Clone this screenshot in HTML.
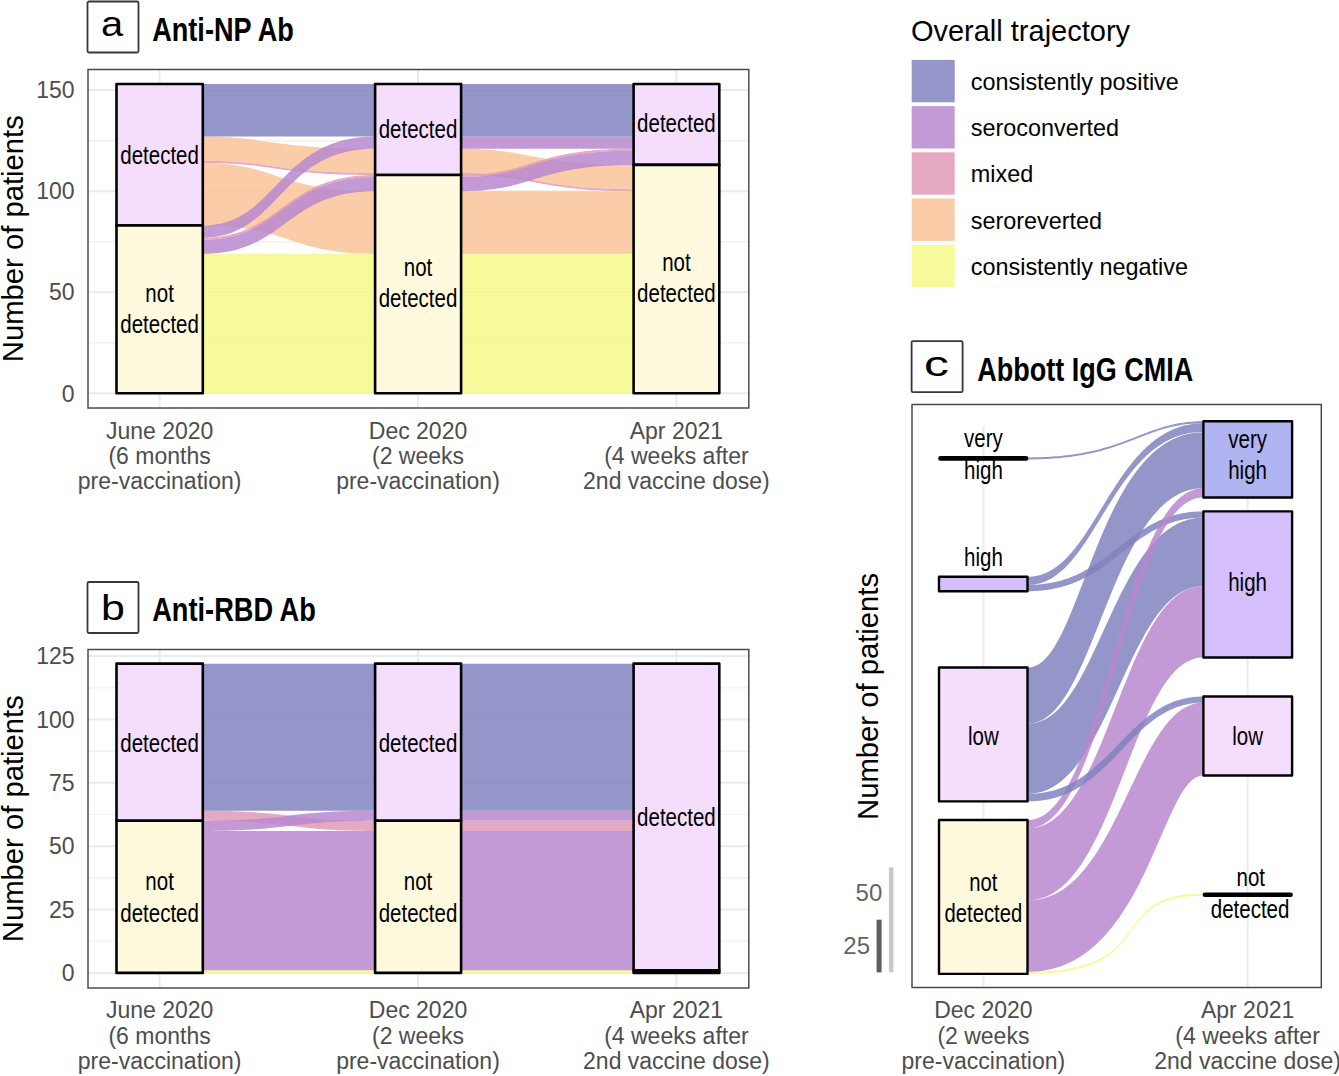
<!DOCTYPE html><html><head><meta charset="utf-8"><style>html,body{margin:0;padding:0;background:#fff;width:1339px;height:1076px;overflow:hidden}svg{display:block}text{font-family:"Liberation Sans",sans-serif}</style></head><body>
<svg width="1339" height="1076" viewBox="0 0 1339 1076">
<rect width="1339" height="1076" fill="#fff"/>
<rect x="87.5" y="1.5" width="51" height="51" rx="1.5" fill="#fff" stroke="#383838" stroke-width="1.8"/>
<text transform="translate(112.0,36.3) scale(1.12,1)" font-size="35.6" fill="#000" text-anchor="middle">a</text>
<text x="152.2" y="40.8" font-size="33" fill="#000" text-anchor="start" font-weight="bold" textLength="141.6" lengthAdjust="spacingAndGlyphs">Anti-NP Ab</text>
<line x1="88.5" x2="748.5" y1="342.77" y2="342.77" stroke="#f2f2f2" stroke-width="1.6"/>
<line x1="88.5" x2="748.5" y1="241.70" y2="241.70" stroke="#f2f2f2" stroke-width="1.6"/>
<line x1="88.5" x2="748.5" y1="140.64" y2="140.64" stroke="#f2f2f2" stroke-width="1.6"/>
<line x1="88.5" x2="748.5" y1="393.30" y2="393.30" stroke="#ebebeb" stroke-width="2"/>
<line x1="88.5" x2="748.5" y1="292.24" y2="292.24" stroke="#ebebeb" stroke-width="2"/>
<line x1="88.5" x2="748.5" y1="191.17" y2="191.17" stroke="#ebebeb" stroke-width="2"/>
<line x1="88.5" x2="748.5" y1="90.11" y2="90.11" stroke="#ebebeb" stroke-width="2"/>
<line x1="159.6" x2="159.6" y1="69.5" y2="408" stroke="#ebebeb" stroke-width="2"/>
<line x1="418.0" x2="418.0" y1="69.5" y2="408" stroke="#ebebeb" stroke-width="2"/>
<line x1="676.4" x2="676.4" y1="69.5" y2="408" stroke="#ebebeb" stroke-width="2"/>
<path d="M202.80,253.83 L207.26,253.83 L211.57,253.83 L215.73,253.83 L219.76,253.83 L223.66,253.83 L227.42,253.83 L231.06,253.83 L234.59,253.83 L238.00,253.83 L241.30,253.83 L244.50,253.83 L247.60,253.83 L250.60,253.83 L253.52,253.83 L256.35,253.83 L259.11,253.83 L261.80,253.83 L264.41,253.83 L266.96,253.83 L269.46,253.83 L271.90,253.83 L274.29,253.83 L276.64,253.83 L278.95,253.83 L281.23,253.83 L283.49,253.83 L285.71,253.83 L287.93,253.83 L290.12,253.83 L292.31,253.83 L294.50,253.83 L296.69,253.83 L298.89,253.83 L301.10,253.83 L303.33,253.83 L305.58,253.83 L307.85,253.83 L310.16,253.83 L312.51,253.83 L314.90,253.83 L317.34,253.83 L319.83,253.83 L322.38,253.83 L324.99,253.83 L327.67,253.83 L330.42,253.83 L333.25,253.83 L336.16,253.83 L339.16,253.83 L342.25,253.83 L345.44,253.83 L348.74,253.83 L352.14,253.83 L355.65,253.83 L359.29,253.83 L363.04,253.83 L366.93,253.83 L370.94,253.83 L375.10,253.83 L375.10,393.30 L372.34,393.30 L369.67,393.30 L367.08,393.30 L364.57,393.30 L362.14,393.30 L359.78,393.30 L357.49,393.30 L355.25,393.30 L353.07,393.30 L350.94,393.30 L348.85,393.30 L346.80,393.30 L344.79,393.30 L342.81,393.30 L340.85,393.30 L338.92,393.30 L336.99,393.30 L335.08,393.30 L333.17,393.30 L331.26,393.30 L329.35,393.30 L327.42,393.30 L325.48,393.30 L323.52,393.30 L321.53,393.30 L319.52,393.30 L317.46,393.30 L315.37,393.30 L313.23,393.30 L311.04,393.30 L308.79,393.30 L306.48,393.30 L304.11,393.30 L301.67,393.30 L299.15,393.30 L296.55,393.30 L293.86,393.30 L291.08,393.30 L288.21,393.30 L285.23,393.30 L282.15,393.30 L278.96,393.30 L275.65,393.30 L272.22,393.30 L268.66,393.30 L264.98,393.30 L261.15,393.30 L257.19,393.30 L253.08,393.30 L248.81,393.30 L244.39,393.30 L239.81,393.30 L235.07,393.30 L230.15,393.30 L225.05,393.30 L219.77,393.30 L214.31,393.30 L208.65,393.30 L202.80,393.30 Z" fill="#f4f989" fill-opacity="0.85"/>
<path d="M202.80,136.59 L206.15,136.61 L209.38,136.64 L212.51,136.69 L215.55,136.75 L218.48,136.84 L221.33,136.95 L224.09,137.07 L226.77,137.20 L229.37,137.36 L231.91,137.52 L234.38,137.70 L236.79,137.90 L239.14,138.10 L241.45,138.32 L243.71,138.55 L245.93,138.79 L248.11,139.04 L250.27,139.29 L252.40,139.56 L254.51,139.83 L256.61,140.11 L258.69,140.40 L260.78,140.69 L262.86,140.98 L264.95,141.28 L267.04,141.58 L269.16,141.89 L271.29,142.20 L273.45,142.50 L275.64,142.81 L277.87,143.12 L280.14,143.43 L282.45,143.73 L284.81,144.04 L287.23,144.33 L289.71,144.63 L292.26,144.92 L294.87,145.21 L297.56,145.49 L300.34,145.76 L303.20,146.03 L306.15,146.28 L309.19,146.53 L312.34,146.77 L315.59,147.00 L318.96,147.22 L322.44,147.42 L326.04,147.62 L329.77,147.80 L333.63,147.96 L337.62,148.11 L341.76,148.25 L346.04,148.37 L350.48,148.48 L355.07,148.56 L359.82,148.63 L364.74,148.68 L369.83,148.71 L375.10,148.72 L375.10,172.98 L370.08,172.97 L365.22,172.94 L360.53,172.89 L355.99,172.82 L351.61,172.73 L347.37,172.63 L343.28,172.51 L339.33,172.37 L335.51,172.22 L331.82,172.05 L328.25,171.87 L324.80,171.68 L321.46,171.47 L318.23,171.25 L315.10,171.03 L312.07,170.79 L309.13,170.54 L306.28,170.28 L303.52,170.02 L300.83,169.74 L298.21,169.46 L295.66,169.18 L293.17,168.89 L290.74,168.59 L288.37,168.29 L286.04,167.99 L283.75,167.68 L281.50,167.38 L279.28,167.07 L277.09,166.76 L274.92,166.45 L272.77,166.15 L270.63,165.84 L268.50,165.54 L266.37,165.24 L264.24,164.94 L262.10,164.65 L259.94,164.37 L257.77,164.09 L255.58,163.81 L253.35,163.55 L251.10,163.29 L248.80,163.04 L246.47,162.80 L244.08,162.58 L241.64,162.36 L239.15,162.15 L236.59,161.96 L233.96,161.78 L231.25,161.61 L228.47,161.46 L225.61,161.32 L222.66,161.20 L219.61,161.10 L216.47,161.01 L213.22,160.94 L209.86,160.89 L206.39,160.86 L202.80,160.85 Z" fill="#f9c499" fill-opacity="0.85"/>
<path d="M202.80,162.87 L206.49,162.90 L210.06,162.97 L213.51,163.08 L216.85,163.24 L220.08,163.45 L223.21,163.69 L226.24,163.97 L229.18,164.29 L232.04,164.65 L234.81,165.04 L237.51,165.46 L240.13,165.91 L242.68,166.39 L245.18,166.90 L247.62,167.43 L250.00,167.99 L252.34,168.57 L254.64,169.17 L256.90,169.79 L259.13,170.42 L261.33,171.07 L263.52,171.74 L265.68,172.42 L267.83,173.11 L269.98,173.81 L272.13,174.51 L274.28,175.23 L276.43,175.94 L278.61,176.66 L280.80,177.38 L283.01,178.10 L285.25,178.82 L287.53,179.53 L289.85,180.23 L292.21,180.93 L294.61,181.62 L297.08,182.30 L299.60,182.97 L302.18,183.62 L304.84,184.26 L307.57,184.88 L310.38,185.48 L313.27,186.06 L316.25,186.61 L319.33,187.15 L322.50,187.65 L325.78,188.13 L329.17,188.59 L332.67,189.01 L336.29,189.40 L340.04,189.75 L343.92,190.07 L347.93,190.35 L352.08,190.59 L356.37,190.80 L360.82,190.96 L365.42,191.07 L370.18,191.15 L375.10,191.17 L375.10,253.83 L370.80,253.81 L366.65,253.73 L362.63,253.62 L358.75,253.46 L354.99,253.26 L351.36,253.01 L347.85,252.73 L344.45,252.41 L341.15,252.06 L337.96,251.67 L334.87,251.25 L331.87,250.79 L328.96,250.31 L326.13,249.81 L323.38,249.27 L320.70,248.72 L318.09,248.14 L315.54,247.54 L313.05,246.92 L310.61,246.28 L308.22,245.63 L305.87,244.96 L303.56,244.28 L301.28,243.59 L299.03,242.89 L296.80,242.19 L294.58,241.48 L292.39,240.76 L290.19,240.04 L288.00,239.32 L285.81,238.60 L283.61,237.89 L281.39,237.17 L279.16,236.47 L276.91,235.77 L274.62,235.08 L272.31,234.40 L269.95,233.74 L267.56,233.08 L265.11,232.45 L262.61,231.83 L260.05,231.23 L257.43,230.65 L254.75,230.09 L251.98,229.56 L249.14,229.05 L246.22,228.57 L243.21,228.12 L240.10,227.70 L236.90,227.31 L233.59,226.95 L230.17,226.63 L226.65,226.35 L223.00,226.11 L219.22,225.90 L215.32,225.74 L211.29,225.63 L207.12,225.56 L202.80,225.53 Z" fill="#f9c499" fill-opacity="0.85"/>
<path d="M202.80,160.85 L206.39,160.86 L209.86,160.89 L213.22,160.94 L216.47,161.01 L219.61,161.10 L222.66,161.20 L225.61,161.32 L228.47,161.46 L231.25,161.61 L233.96,161.78 L236.59,161.96 L239.15,162.15 L241.64,162.36 L244.08,162.58 L246.47,162.80 L248.80,163.04 L251.10,163.29 L253.35,163.55 L255.58,163.81 L257.77,164.09 L259.94,164.37 L262.10,164.65 L264.24,164.94 L266.37,165.24 L268.50,165.54 L270.63,165.84 L272.77,166.15 L274.92,166.45 L277.09,166.76 L279.28,167.07 L281.50,167.38 L283.75,167.68 L286.04,167.99 L288.37,168.29 L290.74,168.59 L293.17,168.89 L295.66,169.18 L298.21,169.46 L300.83,169.74 L303.52,170.02 L306.28,170.28 L309.13,170.54 L312.07,170.79 L315.10,171.03 L318.23,171.25 L321.46,171.47 L324.80,171.68 L328.25,171.87 L331.82,172.05 L335.51,172.22 L339.33,172.37 L343.28,172.51 L347.37,172.63 L351.61,172.73 L355.99,172.82 L360.53,172.89 L365.22,172.94 L370.08,172.97 L375.10,172.98 L375.10,175.00 L370.10,174.99 L365.26,174.96 L360.58,174.91 L356.07,174.84 L351.70,174.75 L347.48,174.65 L343.41,174.53 L339.47,174.39 L335.67,174.24 L331.99,174.07 L328.43,173.89 L324.99,173.70 L321.67,173.49 L318.45,173.28 L315.33,173.05 L312.31,172.81 L309.38,172.56 L306.54,172.30 L303.78,172.04 L301.10,171.76 L298.49,171.48 L295.94,171.20 L293.46,170.91 L291.04,170.61 L288.66,170.31 L286.33,170.01 L284.05,169.70 L281.80,169.40 L279.58,169.09 L277.39,168.78 L275.22,168.47 L273.07,168.17 L270.93,167.86 L268.80,167.56 L266.66,167.26 L264.53,166.96 L262.38,166.67 L260.22,166.39 L258.04,166.11 L255.84,165.83 L253.61,165.57 L251.35,165.31 L249.04,165.06 L246.70,164.82 L244.30,164.60 L241.85,164.38 L239.34,164.17 L236.77,163.98 L234.13,163.80 L231.41,163.63 L228.62,163.48 L225.74,163.34 L222.77,163.22 L219.70,163.12 L216.54,163.03 L213.28,162.96 L209.90,162.91 L206.41,162.88 L202.80,162.87 Z" fill="#e29ab7" fill-opacity="0.85"/>
<path d="M202.80,237.66 L206.78,237.61 L210.63,237.45 L214.36,237.19 L217.96,236.83 L221.44,236.39 L224.82,235.85 L228.08,235.22 L231.25,234.52 L234.31,233.73 L237.29,232.87 L240.17,231.94 L242.98,230.94 L245.71,229.87 L248.36,228.75 L250.95,227.57 L253.48,226.33 L255.95,225.05 L258.37,223.72 L260.74,222.35 L263.07,220.94 L265.37,219.50 L267.63,218.02 L269.86,216.52 L272.08,214.99 L274.27,213.44 L276.46,211.88 L278.64,210.30 L280.82,208.72 L283.00,207.13 L285.19,205.53 L287.40,203.94 L289.62,202.36 L291.86,200.78 L294.14,199.22 L296.45,197.67 L298.80,196.14 L301.19,194.64 L303.63,193.16 L306.12,191.72 L308.68,190.31 L311.30,188.94 L313.98,187.61 L316.74,186.32 L319.58,185.09 L322.51,183.91 L325.52,182.79 L328.63,181.72 L331.84,180.72 L335.15,179.79 L338.57,178.93 L342.10,178.14 L345.76,177.44 L349.53,176.81 L353.44,176.27 L357.48,175.82 L361.67,175.47 L365.99,175.21 L370.47,175.05 L375.10,175.00 L375.10,177.02 L370.49,177.07 L366.03,177.23 L361.73,177.49 L357.56,177.85 L353.54,178.29 L349.65,178.83 L345.88,179.46 L342.24,180.16 L338.72,180.95 L335.32,181.81 L332.02,182.74 L328.83,183.74 L325.73,184.81 L322.73,185.93 L319.81,187.11 L316.98,188.35 L314.23,189.63 L311.55,190.96 L308.94,192.33 L306.40,193.74 L303.91,195.18 L301.47,196.66 L299.09,198.16 L296.74,199.69 L294.44,201.24 L292.16,202.80 L289.92,204.38 L287.70,205.96 L285.49,207.55 L283.30,209.15 L281.12,210.74 L278.94,212.32 L276.76,213.90 L274.57,215.46 L272.37,217.01 L270.15,218.54 L267.91,220.04 L265.64,221.52 L263.34,222.96 L261.01,224.37 L258.63,225.74 L256.20,227.07 L253.72,228.36 L251.18,229.59 L248.58,230.77 L245.91,231.90 L243.17,232.96 L240.36,233.96 L237.46,234.89 L234.47,235.75 L231.39,236.54 L228.21,237.24 L224.93,237.87 L221.54,238.41 L218.04,238.86 L214.42,239.21 L210.67,239.47 L206.80,239.63 L202.80,239.68 Z" fill="#e29ab7" fill-opacity="0.85"/>
<path d="M202.80,225.53 L206.53,225.46 L210.14,225.23 L213.63,224.87 L217.00,224.36 L220.27,223.72 L223.43,222.96 L226.50,222.07 L229.47,221.07 L232.35,219.95 L235.15,218.73 L237.87,217.41 L240.52,215.99 L243.10,214.48 L245.62,212.89 L248.08,211.21 L250.48,209.46 L252.84,207.64 L255.15,205.75 L257.43,203.80 L259.67,201.80 L261.89,199.75 L264.08,197.66 L266.26,195.52 L268.42,193.36 L270.57,191.16 L272.72,188.94 L274.88,186.70 L277.04,184.45 L279.21,182.19 L281.40,179.93 L283.62,177.67 L285.86,175.42 L288.13,173.19 L290.44,170.97 L292.79,168.77 L295.19,166.60 L297.64,164.47 L300.15,162.38 L302.73,160.33 L305.37,158.32 L308.08,156.38 L310.87,154.49 L313.75,152.67 L316.71,150.92 L319.76,149.24 L322.92,147.65 L326.17,146.14 L329.54,144.72 L333.01,143.39 L336.61,142.17 L340.32,141.06 L344.17,140.05 L348.15,139.17 L352.27,138.40 L356.53,137.77 L360.94,137.26 L365.50,136.89 L370.22,136.67 L375.10,136.59 L375.10,148.72 L370.34,148.80 L365.74,149.02 L361.29,149.39 L356.99,149.89 L352.83,150.53 L348.81,151.29 L344.93,152.18 L341.18,153.18 L337.55,154.30 L334.04,155.52 L330.64,156.84 L327.35,158.26 L324.17,159.77 L321.08,161.37 L318.09,163.05 L315.19,164.80 L312.37,166.62 L309.62,168.51 L306.96,170.45 L304.36,172.45 L301.82,174.50 L299.35,176.60 L296.92,178.73 L294.55,180.90 L292.22,183.10 L289.92,185.31 L287.66,187.55 L285.43,189.80 L283.22,192.06 L281.03,194.32 L278.85,196.58 L276.68,198.83 L274.52,201.07 L272.35,203.29 L270.18,205.48 L267.99,207.65 L265.78,209.78 L263.56,211.88 L261.30,213.93 L259.02,215.93 L256.70,217.88 L254.33,219.76 L251.92,221.59 L249.46,223.34 L246.94,225.01 L244.35,226.61 L241.70,228.12 L238.98,229.54 L236.18,230.86 L233.29,232.08 L230.32,233.20 L227.26,234.20 L224.10,235.09 L220.83,235.85 L217.46,236.49 L213.98,236.99 L210.38,237.36 L206.65,237.58 L202.80,237.66 Z" fill="#b887cf" fill-opacity="0.85"/>
<path d="M202.80,239.68 L206.80,239.63 L210.67,239.47 L214.42,239.21 L218.04,238.86 L221.54,238.41 L224.93,237.87 L228.21,237.24 L231.39,236.54 L234.47,235.75 L237.46,234.89 L240.36,233.96 L243.17,232.96 L245.91,231.90 L248.58,230.77 L251.18,229.59 L253.72,228.36 L256.20,227.07 L258.63,225.74 L261.01,224.37 L263.34,222.96 L265.64,221.52 L267.91,220.04 L270.15,218.54 L272.37,217.01 L274.57,215.46 L276.76,213.90 L278.94,212.32 L281.12,210.74 L283.30,209.15 L285.49,207.55 L287.70,205.96 L289.92,204.38 L292.16,202.80 L294.44,201.24 L296.74,199.69 L299.09,198.16 L301.47,196.66 L303.91,195.18 L306.40,193.74 L308.94,192.33 L311.55,190.96 L314.23,189.63 L316.98,188.35 L319.81,187.11 L322.73,185.93 L325.73,184.81 L328.83,183.74 L332.02,182.74 L335.32,181.81 L338.72,180.95 L342.24,180.16 L345.88,179.46 L349.65,178.83 L353.54,178.29 L357.56,177.85 L361.73,177.49 L366.03,177.23 L370.49,177.07 L375.10,177.02 L375.10,191.17 L370.63,191.22 L366.31,191.38 L362.13,191.64 L358.10,191.99 L354.19,192.44 L350.42,192.98 L346.77,193.61 L343.24,194.31 L339.82,195.10 L336.51,195.96 L333.31,196.89 L330.20,197.89 L327.19,198.96 L324.26,200.08 L321.42,201.26 L318.66,202.50 L315.97,203.78 L313.35,205.11 L310.80,206.48 L308.30,207.89 L305.85,209.33 L303.46,210.81 L301.11,212.31 L298.79,213.84 L296.51,215.39 L294.26,216.95 L292.03,218.53 L289.81,220.11 L287.62,221.70 L285.43,223.30 L283.24,224.89 L281.05,226.47 L278.85,228.05 L276.64,229.61 L274.42,231.16 L272.17,232.69 L269.90,234.19 L267.59,235.67 L265.25,237.11 L262.86,238.52 L260.43,239.89 L257.94,241.22 L255.40,242.51 L252.79,243.74 L250.12,244.92 L247.37,246.04 L244.55,247.11 L241.64,248.11 L238.65,249.04 L235.57,249.90 L232.38,250.69 L229.10,251.39 L225.70,252.02 L222.20,252.56 L218.57,253.01 L214.83,253.36 L210.95,253.62 L206.95,253.78 L202.80,253.83 Z" fill="#b887cf" fill-opacity="0.85"/>
<path d="M202.80,84.04 L205.56,84.04 L208.23,84.04 L210.82,84.04 L213.32,84.04 L215.75,84.04 L218.11,84.04 L220.41,84.04 L222.65,84.04 L224.83,84.04 L226.96,84.04 L229.04,84.04 L231.09,84.04 L233.10,84.04 L235.08,84.04 L237.04,84.04 L238.98,84.04 L240.90,84.04 L242.81,84.04 L244.72,84.04 L246.63,84.04 L248.54,84.04 L250.47,84.04 L252.41,84.04 L254.37,84.04 L256.36,84.04 L258.38,84.04 L260.43,84.04 L262.52,84.04 L264.66,84.04 L266.85,84.04 L269.10,84.04 L271.41,84.04 L273.78,84.04 L276.22,84.04 L278.74,84.04 L281.34,84.04 L284.03,84.04 L286.81,84.04 L289.68,84.04 L292.66,84.04 L295.74,84.04 L298.93,84.04 L302.24,84.04 L305.67,84.04 L309.23,84.04 L312.92,84.04 L316.74,84.04 L320.71,84.04 L324.82,84.04 L329.08,84.04 L333.50,84.04 L338.08,84.04 L342.83,84.04 L347.75,84.04 L352.85,84.04 L358.13,84.04 L363.59,84.04 L369.25,84.04 L375.10,84.04 L375.10,136.59 L369.77,136.59 L364.62,136.59 L359.65,136.59 L354.84,136.59 L350.20,136.59 L345.71,136.59 L341.38,136.59 L337.20,136.59 L333.16,136.59 L329.26,136.59 L325.49,136.59 L321.85,136.59 L318.33,136.59 L314.94,136.59 L311.65,136.59 L308.47,136.59 L305.40,136.59 L302.43,136.59 L299.54,136.59 L296.75,136.59 L294.04,136.59 L291.41,136.59 L288.84,136.59 L286.35,136.59 L283.92,136.59 L281.55,136.59 L279.23,136.59 L276.96,136.59 L274.73,136.59 L272.54,136.59 L270.39,136.59 L268.26,136.59 L266.15,136.59 L264.06,136.59 L261.98,136.59 L259.91,136.59 L257.84,136.59 L255.77,136.59 L253.70,136.59 L251.61,136.59 L249.50,136.59 L247.37,136.59 L245.21,136.59 L243.02,136.59 L240.79,136.59 L238.52,136.59 L236.20,136.59 L233.83,136.59 L231.40,136.59 L228.90,136.59 L226.34,136.59 L223.71,136.59 L220.99,136.59 L218.20,136.59 L215.32,136.59 L212.34,136.59 L209.26,136.59 L206.09,136.59 L202.80,136.59 Z" fill="#8182be" fill-opacity="0.85"/>
<path d="M461.10,253.83 L465.56,253.83 L469.88,253.83 L474.05,253.83 L478.08,253.83 L481.98,253.83 L485.75,253.83 L489.39,253.83 L492.92,253.83 L496.34,253.83 L499.64,253.83 L502.84,253.83 L505.95,253.83 L508.96,253.83 L511.88,253.83 L514.72,253.83 L517.48,253.83 L520.16,253.83 L522.78,253.83 L525.34,253.83 L527.83,253.83 L530.28,253.83 L532.67,253.83 L535.03,253.83 L537.34,253.83 L539.62,253.83 L541.88,253.83 L544.11,253.83 L546.32,253.83 L548.52,253.83 L550.72,253.83 L552.91,253.83 L555.10,253.83 L557.30,253.83 L559.51,253.83 L561.74,253.83 L563.99,253.83 L566.27,253.83 L568.59,253.83 L570.94,253.83 L573.33,253.83 L575.77,253.83 L578.26,253.83 L580.81,253.83 L583.43,253.83 L586.11,253.83 L588.86,253.83 L591.70,253.83 L594.61,253.83 L597.62,253.83 L600.71,253.83 L603.91,253.83 L607.20,253.83 L610.61,253.83 L614.13,253.83 L617.77,253.83 L621.53,253.83 L625.42,253.83 L629.44,253.83 L633.60,253.83 L633.60,393.30 L630.83,393.30 L628.16,393.30 L625.57,393.30 L623.06,393.30 L620.62,393.30 L618.25,393.30 L615.95,393.30 L613.71,393.30 L611.53,393.30 L609.39,393.30 L607.30,393.30 L605.25,393.30 L603.24,393.30 L601.25,393.30 L599.29,393.30 L597.35,393.30 L595.43,393.30 L593.51,393.30 L591.60,393.30 L589.69,393.30 L587.77,393.30 L585.84,393.30 L583.90,393.30 L581.93,393.30 L579.94,393.30 L577.92,393.30 L575.87,393.30 L573.77,393.30 L571.63,393.30 L569.44,393.30 L567.19,393.30 L564.88,393.30 L562.50,393.30 L560.06,393.30 L557.53,393.30 L554.93,393.30 L552.24,393.30 L549.46,393.30 L546.58,393.30 L543.61,393.30 L540.52,393.30 L537.33,393.30 L534.01,393.30 L530.58,393.30 L527.02,393.30 L523.33,393.30 L519.50,393.30 L515.54,393.30 L511.42,393.30 L507.15,393.30 L502.73,393.30 L498.14,393.30 L493.39,393.30 L488.47,393.30 L483.37,393.30 L478.09,393.30 L472.62,393.30 L466.96,393.30 L461.10,393.30 Z" fill="#f4f989" fill-opacity="0.85"/>
<path d="M461.10,148.72 L464.59,148.74 L467.97,148.78 L471.24,148.84 L474.40,148.94 L477.46,149.05 L480.43,149.19 L483.31,149.35 L486.10,149.53 L488.81,149.74 L491.45,149.96 L494.01,150.20 L496.51,150.46 L498.95,150.73 L501.34,151.02 L503.68,151.33 L505.97,151.65 L508.22,151.98 L510.44,152.32 L512.63,152.67 L514.79,153.04 L516.93,153.41 L519.06,153.79 L521.18,154.18 L523.29,154.57 L525.41,154.97 L527.53,155.38 L529.66,155.78 L531.81,156.19 L533.97,156.60 L536.17,157.01 L538.39,157.42 L540.65,157.83 L542.95,158.24 L545.30,158.64 L547.69,159.04 L550.15,159.44 L552.66,159.82 L555.24,160.21 L557.89,160.58 L560.62,160.94 L563.43,161.30 L566.32,161.64 L569.31,161.97 L572.39,162.29 L575.57,162.59 L578.86,162.88 L582.26,163.16 L585.78,163.42 L589.42,163.66 L593.19,163.88 L597.08,164.08 L601.12,164.26 L605.29,164.43 L609.61,164.56 L614.09,164.68 L618.72,164.77 L623.51,164.84 L628.47,164.88 L633.60,164.89 L633.60,189.15 L628.71,189.13 L623.99,189.09 L619.42,189.03 L615.01,188.94 L610.74,188.82 L606.62,188.68 L602.64,188.52 L598.79,188.34 L595.07,188.13 L591.47,187.91 L587.99,187.67 L584.62,187.41 L581.36,187.14 L578.21,186.85 L575.15,186.54 L572.18,186.23 L569.31,185.89 L566.51,185.55 L563.80,185.20 L561.15,184.83 L558.58,184.46 L556.06,184.08 L553.61,183.69 L551.21,183.30 L548.85,182.90 L546.54,182.50 L544.26,182.09 L542.02,181.68 L539.80,181.27 L537.61,180.86 L535.43,180.45 L533.27,180.04 L531.12,179.63 L528.96,179.23 L526.80,178.83 L524.64,178.43 L522.46,178.05 L520.27,177.67 L518.05,177.29 L515.80,176.93 L513.52,176.58 L511.21,176.23 L508.85,175.90 L506.44,175.58 L503.98,175.28 L501.46,174.99 L498.87,174.71 L496.22,174.45 L493.49,174.21 L490.69,173.99 L487.80,173.79 L484.83,173.61 L481.76,173.45 L478.59,173.31 L475.32,173.19 L471.94,173.10 L468.45,173.03 L464.84,172.99 L461.10,172.98 Z" fill="#f9c499" fill-opacity="0.85"/>
<path d="M461.10,191.17 L464.94,191.17 L468.65,191.17 L472.23,191.17 L475.70,191.17 L479.06,191.17 L482.31,191.17 L485.46,191.17 L488.51,191.17 L491.48,191.17 L494.35,191.17 L497.14,191.17 L499.85,191.17 L502.50,191.17 L505.07,191.17 L507.59,191.17 L510.04,191.17 L512.45,191.17 L514.81,191.17 L517.13,191.17 L519.41,191.17 L521.66,191.17 L523.88,191.17 L526.08,191.17 L528.27,191.17 L530.44,191.17 L532.61,191.17 L534.78,191.17 L536.95,191.17 L539.13,191.17 L541.32,191.17 L543.53,191.17 L545.77,191.17 L548.03,191.17 L550.33,191.17 L552.67,191.17 L555.05,191.17 L557.48,191.17 L559.97,191.17 L562.51,191.17 L565.12,191.17 L567.80,191.17 L570.55,191.17 L573.38,191.17 L576.30,191.17 L579.30,191.17 L582.41,191.17 L585.60,191.17 L588.91,191.17 L592.32,191.17 L595.85,191.17 L599.50,191.17 L603.27,191.17 L607.18,191.17 L611.21,191.17 L615.39,191.17 L619.71,191.17 L624.19,191.17 L628.81,191.17 L633.60,191.17 L633.60,253.83 L629.44,253.83 L625.42,253.83 L621.53,253.83 L617.77,253.83 L614.13,253.83 L610.61,253.83 L607.20,253.83 L603.91,253.83 L600.71,253.83 L597.62,253.83 L594.61,253.83 L591.70,253.83 L588.86,253.83 L586.11,253.83 L583.43,253.83 L580.81,253.83 L578.26,253.83 L575.77,253.83 L573.33,253.83 L570.94,253.83 L568.59,253.83 L566.27,253.83 L563.99,253.83 L561.74,253.83 L559.51,253.83 L557.30,253.83 L555.10,253.83 L552.91,253.83 L550.72,253.83 L548.52,253.83 L546.32,253.83 L544.11,253.83 L541.88,253.83 L539.62,253.83 L537.34,253.83 L535.03,253.83 L532.67,253.83 L530.28,253.83 L527.83,253.83 L525.34,253.83 L522.78,253.83 L520.16,253.83 L517.48,253.83 L514.72,253.83 L511.88,253.83 L508.96,253.83 L505.95,253.83 L502.84,253.83 L499.64,253.83 L496.34,253.83 L492.92,253.83 L489.39,253.83 L485.75,253.83 L481.98,253.83 L478.08,253.83 L474.05,253.83 L469.88,253.83 L465.56,253.83 L461.10,253.83 Z" fill="#f9c499" fill-opacity="0.85"/>
<path d="M461.10,172.98 L464.84,172.99 L468.45,173.03 L471.94,173.10 L475.32,173.19 L478.59,173.31 L481.76,173.45 L484.83,173.61 L487.80,173.79 L490.69,173.99 L493.49,174.21 L496.22,174.45 L498.87,174.71 L501.46,174.99 L503.98,175.28 L506.44,175.58 L508.85,175.90 L511.21,176.23 L513.52,176.58 L515.80,176.93 L518.05,177.29 L520.27,177.67 L522.46,178.05 L524.64,178.43 L526.80,178.83 L528.96,179.23 L531.12,179.63 L533.27,180.04 L535.43,180.45 L537.61,180.86 L539.80,181.27 L542.02,181.68 L544.26,182.09 L546.54,182.50 L548.85,182.90 L551.21,183.30 L553.61,183.69 L556.06,184.08 L558.58,184.46 L561.15,184.83 L563.80,185.20 L566.51,185.55 L569.31,185.89 L572.18,186.23 L575.15,186.54 L578.21,186.85 L581.36,187.14 L584.62,187.41 L587.99,187.67 L591.47,187.91 L595.07,188.13 L598.79,188.34 L602.64,188.52 L606.62,188.68 L610.74,188.82 L615.01,188.94 L619.42,189.03 L623.99,189.09 L628.71,189.13 L633.60,189.15 L633.60,191.17 L628.73,191.16 L624.03,191.12 L619.48,191.05 L615.08,190.96 L610.84,190.84 L606.73,190.70 L602.77,190.54 L598.93,190.36 L595.22,190.16 L591.64,189.93 L588.17,189.69 L584.82,189.44 L581.57,189.16 L578.43,188.87 L575.38,188.57 L572.42,188.25 L569.56,187.92 L566.77,187.57 L564.06,187.22 L561.42,186.86 L558.85,186.48 L556.35,186.10 L553.90,185.71 L551.50,185.32 L549.15,184.92 L546.84,184.52 L544.56,184.11 L542.32,183.70 L540.11,183.29 L537.91,182.88 L535.74,182.47 L533.57,182.06 L531.41,181.65 L529.26,181.25 L527.10,180.85 L524.93,180.46 L522.75,180.07 L520.55,179.69 L518.32,179.31 L516.07,178.95 L513.78,178.60 L511.46,178.25 L509.09,177.92 L506.67,177.60 L504.19,177.30 L501.66,177.01 L499.07,176.73 L496.40,176.48 L493.67,176.24 L490.85,176.01 L487.95,175.81 L484.96,175.63 L481.87,175.47 L478.69,175.33 L475.40,175.21 L472.00,175.12 L468.49,175.05 L464.86,175.01 L461.10,175.00 Z" fill="#e29ab7" fill-opacity="0.85"/>
<path d="M461.10,175.00 L464.64,174.98 L468.07,174.91 L471.39,174.80 L474.59,174.65 L477.70,174.47 L480.71,174.24 L483.62,173.98 L486.45,173.68 L489.20,173.35 L491.87,172.99 L494.47,172.60 L497.00,172.18 L499.48,171.73 L501.89,171.26 L504.25,170.77 L506.57,170.25 L508.84,169.71 L511.08,169.15 L513.29,168.58 L515.47,167.99 L517.63,167.38 L519.77,166.76 L521.90,166.13 L524.02,165.49 L526.15,164.84 L528.28,164.19 L530.41,163.53 L532.56,162.86 L534.73,162.20 L536.92,161.53 L539.15,160.86 L541.40,160.20 L543.70,159.53 L546.04,158.88 L548.42,158.23 L550.87,157.59 L553.37,156.96 L555.94,156.34 L558.57,155.73 L561.28,155.14 L564.07,154.57 L566.94,154.01 L569.91,153.47 L572.96,152.95 L576.12,152.46 L579.38,151.99 L582.76,151.54 L586.24,151.12 L589.85,150.73 L593.58,150.37 L597.44,150.04 L601.43,149.74 L605.57,149.48 L609.85,149.26 L614.28,149.07 L618.86,148.92 L623.61,148.81 L628.52,148.75 L633.60,148.72 L633.60,150.74 L628.54,150.77 L623.65,150.83 L618.92,150.94 L614.36,151.09 L609.94,151.28 L605.68,151.50 L601.56,151.77 L597.58,152.06 L593.74,152.39 L590.02,152.75 L586.43,153.14 L582.95,153.56 L579.59,154.01 L576.34,154.48 L573.19,154.98 L570.15,155.49 L567.19,156.03 L564.33,156.59 L561.55,157.16 L558.84,157.76 L556.21,158.36 L553.65,158.98 L551.16,159.61 L548.72,160.25 L546.33,160.90 L544.00,161.56 L541.70,162.22 L539.45,162.88 L537.23,163.55 L535.03,164.22 L532.86,164.88 L530.71,165.55 L528.57,166.21 L526.44,166.87 L524.32,167.51 L522.19,168.15 L520.05,168.78 L517.90,169.40 L515.74,170.01 L513.55,170.60 L511.34,171.18 L509.09,171.73 L506.81,172.27 L504.48,172.79 L502.11,173.28 L499.68,173.76 L497.20,174.20 L494.66,174.62 L492.04,175.01 L489.36,175.37 L486.60,175.70 L483.75,176.00 L480.82,176.26 L477.79,176.49 L474.67,176.67 L471.44,176.82 L468.11,176.93 L464.66,177.00 L461.10,177.02 Z" fill="#e29ab7" fill-opacity="0.85"/>
<path d="M461.10,136.59 L464.39,136.59 L467.57,136.59 L470.65,136.59 L473.63,136.59 L476.52,136.59 L479.32,136.59 L482.04,136.59 L484.68,136.59 L487.24,136.59 L489.74,136.59 L492.17,136.59 L494.55,136.59 L496.87,136.59 L499.15,136.59 L501.38,136.59 L503.57,136.59 L505.73,136.59 L507.87,136.59 L509.98,136.59 L512.07,136.59 L514.15,136.59 L516.22,136.59 L518.29,136.59 L520.37,136.59 L522.45,136.59 L524.54,136.59 L526.65,136.59 L528.78,136.59 L530.94,136.59 L533.14,136.59 L535.37,136.59 L537.64,136.59 L539.96,136.59 L542.33,136.59 L544.77,136.59 L547.26,136.59 L549.82,136.59 L552.46,136.59 L555.17,136.59 L557.97,136.59 L560.86,136.59 L563.83,136.59 L566.91,136.59 L570.09,136.59 L573.38,136.59 L576.78,136.59 L580.30,136.59 L583.94,136.59 L587.71,136.59 L591.62,136.59 L595.66,136.59 L599.85,136.59 L604.18,136.59 L608.67,136.59 L613.32,136.59 L618.13,136.59 L623.11,136.59 L628.27,136.59 L633.60,136.59 L633.60,148.72 L628.39,148.72 L623.35,148.72 L618.48,148.72 L613.78,148.72 L609.24,148.72 L604.85,148.72 L600.61,148.72 L596.51,148.72 L592.56,148.72 L588.74,148.72 L585.05,148.72 L581.48,148.72 L578.03,148.72 L574.70,148.72 L571.47,148.72 L568.35,148.72 L565.33,148.72 L562.40,148.72 L559.56,148.72 L556.80,148.72 L554.13,148.72 L551.53,148.72 L548.99,148.72 L546.52,148.72 L544.11,148.72 L541.75,148.72 L539.45,148.72 L537.18,148.72 L534.95,148.72 L532.76,148.72 L530.60,148.72 L528.46,148.72 L526.33,148.72 L524.22,148.72 L522.12,148.72 L520.02,148.72 L517.93,148.72 L515.82,148.72 L513.70,148.72 L511.57,148.72 L509.41,148.72 L507.23,148.72 L505.01,148.72 L502.76,148.72 L500.46,148.72 L498.12,148.72 L495.73,148.72 L493.28,148.72 L490.76,148.72 L488.18,148.72 L485.53,148.72 L482.80,148.72 L479.99,148.72 L477.09,148.72 L474.09,148.72 L471.00,148.72 L467.81,148.72 L464.51,148.72 L461.10,148.72 Z" fill="#b887cf" fill-opacity="0.85"/>
<path d="M461.10,177.02 L464.66,177.00 L468.11,176.93 L471.44,176.82 L474.67,176.67 L477.79,176.49 L480.82,176.26 L483.75,176.00 L486.60,175.70 L489.36,175.37 L492.04,175.01 L494.66,174.62 L497.20,174.20 L499.68,173.76 L502.11,173.28 L504.48,172.79 L506.81,172.27 L509.09,171.73 L511.34,171.18 L513.55,170.60 L515.74,170.01 L517.90,169.40 L520.05,168.78 L522.19,168.15 L524.32,167.51 L526.44,166.87 L528.57,166.21 L530.71,165.55 L532.86,164.88 L535.03,164.22 L537.23,163.55 L539.45,162.88 L541.70,162.22 L544.00,161.56 L546.33,160.90 L548.72,160.25 L551.16,159.61 L553.65,158.98 L556.21,158.36 L558.84,157.76 L561.55,157.16 L564.33,156.59 L567.19,156.03 L570.15,155.49 L573.19,154.98 L576.34,154.48 L579.59,154.01 L582.95,153.56 L586.43,153.14 L590.02,152.75 L593.74,152.39 L597.58,152.06 L601.56,151.77 L605.68,151.50 L609.94,151.28 L614.36,151.09 L618.92,150.94 L623.65,150.83 L628.54,150.77 L633.60,150.74 L633.60,164.89 L628.68,164.92 L623.93,164.98 L619.33,165.09 L614.89,165.24 L610.60,165.43 L606.46,165.65 L602.45,165.91 L598.58,166.21 L594.83,166.54 L591.21,166.90 L587.71,167.29 L584.33,167.71 L581.05,168.16 L577.88,168.63 L574.80,169.12 L571.82,169.64 L568.93,170.18 L566.13,170.74 L563.40,171.31 L560.75,171.90 L558.16,172.51 L555.64,173.13 L553.18,173.76 L550.77,174.40 L548.41,175.05 L546.09,175.70 L543.81,176.37 L541.57,177.03 L539.35,177.70 L537.16,178.37 L534.98,179.03 L532.82,179.70 L530.67,180.36 L528.52,181.01 L526.37,181.66 L524.21,182.30 L522.04,182.93 L519.85,183.55 L517.64,184.16 L515.41,184.75 L513.14,185.33 L510.83,185.88 L508.49,186.42 L506.09,186.94 L503.65,187.43 L501.14,187.91 L498.58,188.35 L495.94,188.77 L493.24,189.16 L490.46,189.52 L487.59,189.85 L484.64,190.15 L481.59,190.41 L478.45,190.64 L475.21,190.82 L471.85,190.97 L468.39,191.08 L464.81,191.15 L461.10,191.17 Z" fill="#b887cf" fill-opacity="0.85"/>
<path d="M461.10,84.04 L463.87,84.04 L466.54,84.04 L469.13,84.04 L471.64,84.04 L474.08,84.04 L476.44,84.04 L478.74,84.04 L480.98,84.04 L483.17,84.04 L485.30,84.04 L487.39,84.04 L489.44,84.04 L491.45,84.04 L493.44,84.04 L495.40,84.04 L497.34,84.04 L499.27,84.04 L501.18,84.04 L503.09,84.04 L505.01,84.04 L506.92,84.04 L508.85,84.04 L510.79,84.04 L512.76,84.04 L514.75,84.04 L516.77,84.04 L518.82,84.04 L520.92,84.04 L523.06,84.04 L525.25,84.04 L527.50,84.04 L529.81,84.04 L532.19,84.04 L534.64,84.04 L537.16,84.04 L539.76,84.04 L542.45,84.04 L545.23,84.04 L548.11,84.04 L551.09,84.04 L554.17,84.04 L557.37,84.04 L560.68,84.04 L564.11,84.04 L567.67,84.04 L571.36,84.04 L575.19,84.04 L579.16,84.04 L583.28,84.04 L587.54,84.04 L591.97,84.04 L596.55,84.04 L601.30,84.04 L606.23,84.04 L611.33,84.04 L616.61,84.04 L622.08,84.04 L627.74,84.04 L633.60,84.04 L633.60,136.59 L628.27,136.59 L623.11,136.59 L618.13,136.59 L613.32,136.59 L608.67,136.59 L604.18,136.59 L599.85,136.59 L595.66,136.59 L591.62,136.59 L587.71,136.59 L583.94,136.59 L580.30,136.59 L576.78,136.59 L573.38,136.59 L570.09,136.59 L566.91,136.59 L563.83,136.59 L560.86,136.59 L557.97,136.59 L555.17,136.59 L552.46,136.59 L549.82,136.59 L547.26,136.59 L544.77,136.59 L542.33,136.59 L539.96,136.59 L537.64,136.59 L535.37,136.59 L533.14,136.59 L530.94,136.59 L528.78,136.59 L526.65,136.59 L524.54,136.59 L522.45,136.59 L520.37,136.59 L518.29,136.59 L516.22,136.59 L514.15,136.59 L512.07,136.59 L509.98,136.59 L507.87,136.59 L505.73,136.59 L503.57,136.59 L501.38,136.59 L499.15,136.59 L496.87,136.59 L494.55,136.59 L492.17,136.59 L489.74,136.59 L487.24,136.59 L484.68,136.59 L482.04,136.59 L479.32,136.59 L476.52,136.59 L473.63,136.59 L470.65,136.59 L467.57,136.59 L464.39,136.59 L461.10,136.59 Z" fill="#8182be" fill-opacity="0.85"/>
<rect x="116.5" y="84.04" width="86.30" height="141.49" fill="#f4ddfd" stroke="#000" stroke-width="2.6" stroke-linejoin="round"/>
<rect x="116.5" y="225.53" width="86.30" height="167.77" fill="#fffade" stroke="#000" stroke-width="2.6" stroke-linejoin="round"/>
<rect x="375.1" y="84.04" width="86.00" height="90.96" fill="#f4ddfd" stroke="#000" stroke-width="2.6" stroke-linejoin="round"/>
<rect x="375.1" y="175.00" width="86.00" height="218.30" fill="#fffade" stroke="#000" stroke-width="2.6" stroke-linejoin="round"/>
<rect x="633.6" y="84.04" width="85.70" height="80.85" fill="#f4ddfd" stroke="#000" stroke-width="2.6" stroke-linejoin="round"/>
<rect x="633.6" y="164.89" width="85.70" height="228.41" fill="#fffade" stroke="#000" stroke-width="2.6" stroke-linejoin="round"/>
<rect x="88" y="69.5" width="660.8" height="338.5" fill="none" stroke="#454545" stroke-width="1.45"/>
<text transform="translate(159.6,163.6) scale(0.82,1)" font-size="25" fill="#000" text-anchor="middle">detected</text>
<text transform="translate(159.6,302.2) scale(0.82,1)" font-size="25" fill="#000" text-anchor="middle">not</text>
<text transform="translate(159.6,333.4) scale(0.82,1)" font-size="25" fill="#000" text-anchor="middle">detected</text>
<text transform="translate(418.0,138.3) scale(0.82,1)" font-size="25" fill="#000" text-anchor="middle">detected</text>
<text transform="translate(418.0,276.1) scale(0.82,1)" font-size="25" fill="#000" text-anchor="middle">not</text>
<text transform="translate(418.0,307.4) scale(0.82,1)" font-size="25" fill="#000" text-anchor="middle">detected</text>
<text transform="translate(676.4,131.7) scale(0.82,1)" font-size="25" fill="#000" text-anchor="middle">detected</text>
<text transform="translate(676.4,271.2) scale(0.82,1)" font-size="25" fill="#000" text-anchor="middle">not</text>
<text transform="translate(676.4,302.4) scale(0.82,1)" font-size="25" fill="#000" text-anchor="middle">detected</text>
<text x="74.5" y="401.5" font-size="23" fill="#4d4d4d" text-anchor="end" font-weight="normal">0</text>
<text x="74.5" y="300.435" font-size="23" fill="#4d4d4d" text-anchor="end" font-weight="normal">50</text>
<text x="74.5" y="199.37" font-size="23" fill="#4d4d4d" text-anchor="end" font-weight="normal">100</text>
<text x="74.5" y="98.30500000000002" font-size="23" fill="#4d4d4d" text-anchor="end" font-weight="normal">150</text>
<text x="159.6" y="438.9" font-size="23" fill="#4d4d4d" text-anchor="middle" font-weight="normal">June 2020</text>
<text x="159.6" y="464.4" font-size="23" fill="#4d4d4d" text-anchor="middle" font-weight="normal">(6 months</text>
<text x="159.6" y="489.3" font-size="23" fill="#4d4d4d" text-anchor="middle" font-weight="normal">pre-vaccination)</text>
<text x="418.0" y="438.9" font-size="23" fill="#4d4d4d" text-anchor="middle" font-weight="normal">Dec 2020</text>
<text x="418.0" y="464.4" font-size="23" fill="#4d4d4d" text-anchor="middle" font-weight="normal">(2 weeks</text>
<text x="418.0" y="489.3" font-size="23" fill="#4d4d4d" text-anchor="middle" font-weight="normal">pre-vaccination)</text>
<text x="676.4" y="438.9" font-size="23" fill="#4d4d4d" text-anchor="middle" font-weight="normal">Apr 2021</text>
<text x="676.4" y="464.4" font-size="23" fill="#4d4d4d" text-anchor="middle" font-weight="normal">(4 weeks after</text>
<text x="676.4" y="489.3" font-size="23" fill="#4d4d4d" text-anchor="middle" font-weight="normal">2nd vaccine dose)</text>
<text transform="translate(23.4,238.7) rotate(-90)" font-size="30" fill="#000" text-anchor="middle" textLength="247" lengthAdjust="spacingAndGlyphs">Number of patients</text>
<rect x="87.5" y="582" width="51" height="51" rx="1.5" fill="#fff" stroke="#383838" stroke-width="1.8"/>
<text transform="translate(113.0,620.0) scale(1.24,1)" font-size="34.6" fill="#000" text-anchor="middle">b</text>
<text x="152.2" y="621.1" font-size="33" fill="#000" text-anchor="start" font-weight="bold" textLength="163.7" lengthAdjust="spacingAndGlyphs">Anti-RBD Ab</text>
<line x1="88.5" x2="748.5" y1="941.21" y2="941.21" stroke="#f2f2f2" stroke-width="1.6"/>
<line x1="88.5" x2="748.5" y1="877.84" y2="877.84" stroke="#f2f2f2" stroke-width="1.6"/>
<line x1="88.5" x2="748.5" y1="814.46" y2="814.46" stroke="#f2f2f2" stroke-width="1.6"/>
<line x1="88.5" x2="748.5" y1="751.09" y2="751.09" stroke="#f2f2f2" stroke-width="1.6"/>
<line x1="88.5" x2="748.5" y1="687.71" y2="687.71" stroke="#f2f2f2" stroke-width="1.6"/>
<line x1="88.5" x2="748.5" y1="972.90" y2="972.90" stroke="#ebebeb" stroke-width="2"/>
<line x1="88.5" x2="748.5" y1="909.52" y2="909.52" stroke="#ebebeb" stroke-width="2"/>
<line x1="88.5" x2="748.5" y1="846.15" y2="846.15" stroke="#ebebeb" stroke-width="2"/>
<line x1="88.5" x2="748.5" y1="782.77" y2="782.77" stroke="#ebebeb" stroke-width="2"/>
<line x1="88.5" x2="748.5" y1="719.40" y2="719.40" stroke="#ebebeb" stroke-width="2"/>
<line x1="88.5" x2="748.5" y1="656.02" y2="656.02" stroke="#ebebeb" stroke-width="2"/>
<line x1="159.6" x2="159.6" y1="649.5" y2="988" stroke="#ebebeb" stroke-width="2"/>
<line x1="418.0" x2="418.0" y1="649.5" y2="988" stroke="#ebebeb" stroke-width="2"/>
<line x1="676.4" x2="676.4" y1="649.5" y2="988" stroke="#ebebeb" stroke-width="2"/>
<path d="M202.80,970.37 L208.62,970.37 L214.25,970.37 L219.69,970.37 L224.94,970.37 L230.01,970.37 L234.90,970.37 L239.63,970.37 L244.19,970.37 L248.59,970.37 L252.83,970.37 L256.92,970.37 L260.87,970.37 L264.67,970.37 L268.35,970.37 L271.89,970.37 L275.30,970.37 L278.60,970.37 L281.78,970.37 L284.85,970.37 L287.81,970.37 L290.68,970.37 L293.45,970.37 L296.13,970.37 L298.72,970.37 L301.24,970.37 L303.68,970.37 L306.05,970.37 L308.35,970.37 L310.60,970.37 L312.79,970.37 L314.93,970.37 L317.03,970.37 L319.08,970.37 L321.10,970.37 L323.09,970.37 L325.06,970.37 L327.01,970.37 L328.94,970.37 L330.87,970.37 L332.79,970.37 L334.71,970.37 L336.63,970.37 L338.57,970.37 L340.52,970.37 L342.49,970.37 L344.49,970.37 L346.52,970.37 L348.58,970.37 L350.69,970.37 L352.84,970.37 L355.04,970.37 L357.30,970.37 L359.62,970.37 L362.01,970.37 L364.46,970.37 L367.00,970.37 L369.61,970.37 L372.31,970.37 L375.10,970.37 L375.10,972.90 L372.33,972.90 L369.66,972.90 L367.07,972.90 L364.56,972.90 L362.12,972.90 L359.76,972.90 L357.46,972.90 L355.22,972.90 L353.04,972.90 L350.90,972.90 L348.82,972.90 L346.77,972.90 L344.75,972.90 L342.77,972.90 L340.81,972.90 L338.87,972.90 L336.94,972.90 L335.03,972.90 L333.12,972.90 L331.21,972.90 L329.29,972.90 L327.37,972.90 L325.42,972.90 L323.46,972.90 L321.47,972.90 L319.46,972.90 L317.40,972.90 L315.31,972.90 L313.17,972.90 L310.98,972.90 L308.73,972.90 L306.43,972.90 L304.05,972.90 L301.61,972.90 L299.09,972.90 L296.49,972.90 L293.80,972.90 L291.03,972.90 L288.15,972.90 L285.18,972.90 L282.10,972.90 L278.91,972.90 L275.60,972.90 L272.18,972.90 L268.62,972.90 L264.94,972.90 L261.11,972.90 L257.15,972.90 L253.04,972.90 L248.78,972.90 L244.37,972.90 L239.79,972.90 L235.04,972.90 L230.13,972.90 L225.04,972.90 L219.76,972.90 L214.30,972.90 L208.65,972.90 L202.80,972.90 Z" fill="#f4f989" fill-opacity="0.85"/>
<path d="M202.80,830.94 L207.23,830.94 L211.51,830.94 L215.65,830.94 L219.65,830.94 L223.52,830.94 L227.26,830.94 L230.88,830.94 L234.38,830.94 L237.77,830.94 L241.05,830.94 L244.23,830.94 L247.31,830.94 L250.30,830.94 L253.21,830.94 L256.03,830.94 L258.77,830.94 L261.44,830.94 L264.04,830.94 L266.58,830.94 L269.07,830.94 L271.50,830.94 L273.89,830.94 L276.23,830.94 L278.54,830.94 L280.81,830.94 L283.06,830.94 L285.28,830.94 L287.49,830.94 L289.69,830.94 L291.88,830.94 L294.07,830.94 L296.26,830.94 L298.46,830.94 L300.68,830.94 L302.91,830.94 L305.16,830.94 L307.45,830.94 L309.77,830.94 L312.12,830.94 L314.52,830.94 L316.97,830.94 L319.47,830.94 L322.03,830.94 L324.66,830.94 L327.35,830.94 L330.12,830.94 L332.97,830.94 L335.90,830.94 L338.91,830.94 L342.03,830.94 L345.24,830.94 L348.55,830.94 L351.98,830.94 L355.52,830.94 L359.18,830.94 L362.96,830.94 L366.87,830.94 L370.92,830.94 L375.10,830.94 L375.10,970.37 L372.31,970.37 L369.61,970.37 L367.00,970.37 L364.46,970.37 L362.01,970.37 L359.62,970.37 L357.30,970.37 L355.04,970.37 L352.84,970.37 L350.69,970.37 L348.58,970.37 L346.52,970.37 L344.49,970.37 L342.49,970.37 L340.52,970.37 L338.57,970.37 L336.63,970.37 L334.71,970.37 L332.79,970.37 L330.87,970.37 L328.94,970.37 L327.01,970.37 L325.06,970.37 L323.09,970.37 L321.10,970.37 L319.08,970.37 L317.03,970.37 L314.93,970.37 L312.79,970.37 L310.60,970.37 L308.35,970.37 L306.05,970.37 L303.68,970.37 L301.24,970.37 L298.72,970.37 L296.13,970.37 L293.45,970.37 L290.68,970.37 L287.81,970.37 L284.85,970.37 L281.78,970.37 L278.60,970.37 L275.30,970.37 L271.89,970.37 L268.35,970.37 L264.67,970.37 L260.87,970.37 L256.92,970.37 L252.83,970.37 L248.59,970.37 L244.19,970.37 L239.63,970.37 L234.90,970.37 L230.01,970.37 L224.94,970.37 L219.69,970.37 L214.25,970.37 L208.62,970.37 L202.80,970.37 Z" fill="#b887cf" fill-opacity="0.85"/>
<path d="M202.80,810.66 L207.08,810.67 L211.21,810.69 L215.21,810.74 L219.08,810.79 L222.81,810.87 L226.43,810.95 L229.93,811.05 L233.31,811.17 L236.59,811.30 L239.77,811.44 L242.85,811.59 L245.84,811.75 L248.74,811.92 L251.55,812.10 L254.30,812.29 L256.97,812.49 L259.57,812.70 L262.11,812.92 L264.59,813.14 L267.02,813.37 L269.41,813.60 L271.75,813.84 L274.06,814.08 L276.33,814.33 L278.58,814.58 L280.81,814.83 L283.02,815.09 L285.22,815.34 L287.41,815.60 L289.60,815.86 L291.79,816.12 L294.00,816.37 L296.21,816.63 L298.45,816.88 L300.71,817.13 L302.99,817.38 L305.31,817.62 L307.67,817.86 L310.08,818.09 L312.53,818.32 L315.04,818.54 L317.60,818.76 L320.23,818.97 L322.93,819.17 L325.70,819.36 L328.55,819.54 L331.49,819.71 L334.51,819.87 L337.63,820.02 L340.85,820.16 L344.17,820.29 L347.60,820.41 L351.15,820.51 L354.81,820.59 L358.60,820.67 L362.52,820.72 L366.57,820.77 L370.76,820.79 L375.10,820.80 L375.10,830.94 L370.86,830.93 L366.77,830.91 L362.81,830.86 L358.98,830.81 L355.28,830.73 L351.70,830.65 L348.24,830.55 L344.88,830.43 L341.63,830.30 L338.49,830.16 L335.43,830.01 L332.47,829.85 L329.60,829.68 L326.80,829.50 L324.08,829.31 L321.43,829.11 L318.85,828.90 L316.33,828.68 L313.86,828.46 L311.44,828.23 L309.07,828.00 L306.74,827.76 L304.44,827.52 L302.17,827.27 L299.93,827.02 L297.71,826.77 L295.51,826.51 L293.31,826.26 L291.12,826.00 L288.93,825.74 L286.73,825.48 L284.53,825.23 L282.31,824.97 L280.07,824.72 L277.80,824.47 L275.51,824.22 L273.18,823.98 L270.80,823.74 L268.39,823.51 L265.92,823.28 L263.40,823.06 L260.82,822.84 L258.17,822.63 L255.45,822.43 L252.66,822.24 L249.78,822.06 L246.82,821.89 L243.77,821.73 L240.62,821.58 L237.38,821.44 L234.03,821.31 L230.56,821.19 L226.98,821.09 L223.28,821.01 L219.46,820.93 L215.50,820.88 L211.41,820.83 L207.18,820.81 L202.80,820.80 Z" fill="#e29ab7" fill-opacity="0.85"/>
<path d="M202.80,820.80 L207.08,820.79 L211.21,820.77 L215.21,820.72 L219.08,820.67 L222.81,820.59 L226.43,820.51 L229.93,820.41 L233.31,820.29 L236.59,820.16 L239.77,820.02 L242.85,819.87 L245.84,819.71 L248.74,819.54 L251.55,819.36 L254.30,819.17 L256.97,818.97 L259.57,818.76 L262.11,818.54 L264.59,818.32 L267.02,818.09 L269.41,817.86 L271.75,817.62 L274.06,817.38 L276.33,817.13 L278.58,816.88 L280.81,816.63 L283.02,816.37 L285.22,816.12 L287.41,815.86 L289.60,815.60 L291.79,815.34 L294.00,815.09 L296.21,814.83 L298.45,814.58 L300.71,814.33 L302.99,814.08 L305.31,813.84 L307.67,813.60 L310.08,813.37 L312.53,813.14 L315.04,812.92 L317.60,812.70 L320.23,812.49 L322.93,812.29 L325.70,812.10 L328.55,811.92 L331.49,811.75 L334.51,811.59 L337.63,811.44 L340.85,811.30 L344.17,811.17 L347.60,811.05 L351.15,810.95 L354.81,810.87 L358.60,810.79 L362.52,810.74 L366.57,810.69 L370.76,810.67 L375.10,810.66 L375.10,820.80 L370.86,820.81 L366.77,820.83 L362.81,820.88 L358.98,820.93 L355.28,821.01 L351.70,821.09 L348.24,821.19 L344.88,821.31 L341.63,821.44 L338.49,821.58 L335.43,821.73 L332.47,821.89 L329.60,822.06 L326.80,822.24 L324.08,822.43 L321.43,822.63 L318.85,822.84 L316.33,823.06 L313.86,823.28 L311.44,823.51 L309.07,823.74 L306.74,823.98 L304.44,824.22 L302.17,824.47 L299.93,824.72 L297.71,824.97 L295.51,825.23 L293.31,825.48 L291.12,825.74 L288.93,826.00 L286.73,826.26 L284.53,826.51 L282.31,826.77 L280.07,827.02 L277.80,827.27 L275.51,827.52 L273.18,827.76 L270.80,828.00 L268.39,828.23 L265.92,828.46 L263.40,828.68 L260.82,828.90 L258.17,829.11 L255.45,829.31 L252.66,829.50 L249.78,829.68 L246.82,829.85 L243.77,830.01 L240.62,830.16 L237.38,830.30 L234.03,830.43 L230.56,830.55 L226.98,830.65 L223.28,830.73 L219.46,830.81 L215.50,830.86 L211.41,830.91 L207.18,830.93 L202.80,830.94 Z" fill="#b887cf" fill-opacity="0.85"/>
<path d="M202.80,663.63 L205.56,663.63 L208.22,663.63 L210.81,663.63 L213.31,663.63 L215.73,663.63 L218.09,663.63 L220.38,663.63 L222.62,663.63 L224.79,663.63 L226.92,663.63 L229.01,663.63 L231.05,663.63 L233.06,663.63 L235.04,663.63 L236.99,663.63 L238.93,663.63 L240.85,663.63 L242.76,663.63 L244.67,663.63 L246.58,663.63 L248.49,663.63 L250.41,663.63 L252.35,663.63 L254.31,663.63 L256.30,663.63 L258.32,663.63 L260.37,663.63 L262.46,663.63 L264.60,663.63 L266.79,663.63 L269.04,663.63 L271.35,663.63 L273.72,663.63 L276.16,663.63 L278.68,663.63 L281.29,663.63 L283.97,663.63 L286.75,663.63 L289.63,663.63 L292.61,663.63 L295.69,663.63 L298.88,663.63 L302.19,663.63 L305.63,663.63 L309.18,663.63 L312.87,663.63 L316.70,663.63 L320.67,663.63 L324.78,663.63 L329.05,663.63 L333.47,663.63 L338.06,663.63 L342.81,663.63 L347.73,663.63 L352.83,663.63 L358.11,663.63 L363.58,663.63 L369.24,663.63 L375.10,663.63 L375.10,810.66 L370.71,810.66 L366.47,810.66 L362.37,810.66 L358.41,810.66 L354.57,810.66 L350.87,810.66 L347.28,810.66 L343.81,810.66 L340.45,810.66 L337.20,810.66 L334.05,810.66 L330.99,810.66 L328.03,810.66 L325.15,810.66 L322.35,810.66 L319.63,810.66 L316.98,810.66 L314.39,810.66 L311.87,810.66 L309.40,810.66 L306.98,810.66 L304.60,810.66 L302.27,810.66 L299.97,810.66 L297.70,810.66 L295.46,810.66 L293.24,810.66 L291.04,810.66 L288.84,810.66 L286.65,810.66 L284.46,810.66 L282.26,810.66 L280.06,810.66 L277.84,810.66 L275.60,810.66 L273.34,810.66 L271.04,810.66 L268.71,810.66 L266.34,810.66 L263.93,810.66 L261.46,810.66 L258.94,810.66 L256.36,810.66 L253.72,810.66 L251.00,810.66 L248.21,810.66 L245.34,810.66 L242.39,810.66 L239.34,810.66 L236.20,810.66 L232.96,810.66 L229.61,810.66 L226.15,810.66 L222.58,810.66 L218.88,810.66 L215.06,810.66 L211.11,810.66 L207.03,810.66 L202.80,810.66 Z" fill="#8182be" fill-opacity="0.85"/>
<path d="M461.10,970.37 L466.93,970.37 L472.56,970.37 L478.00,970.37 L483.26,970.37 L488.33,970.37 L493.23,970.37 L497.96,970.37 L502.52,970.37 L506.93,970.37 L511.17,970.37 L515.27,970.37 L519.22,970.37 L523.03,970.37 L526.70,970.37 L530.25,970.37 L533.67,970.37 L536.96,970.37 L540.15,970.37 L543.22,970.37 L546.19,970.37 L549.06,970.37 L551.83,970.37 L554.51,970.37 L557.11,970.37 L559.63,970.37 L562.07,970.37 L564.44,970.37 L566.75,970.37 L569.00,970.37 L571.19,970.37 L573.33,970.37 L575.43,970.37 L577.49,970.37 L579.51,970.37 L581.51,970.37 L583.48,970.37 L585.43,970.37 L587.37,970.37 L589.29,970.37 L591.21,970.37 L593.14,970.37 L595.07,970.37 L597.00,970.37 L598.96,970.37 L600.94,970.37 L602.94,970.37 L604.97,970.37 L607.04,970.37 L609.15,970.37 L611.30,970.37 L613.51,970.37 L615.77,970.37 L618.09,970.37 L620.48,970.37 L622.94,970.37 L625.48,970.37 L628.10,970.37 L630.80,970.37 L633.60,970.37 L633.60,972.90 L630.83,972.90 L628.15,972.90 L625.55,972.90 L623.04,972.90 L620.60,972.90 L618.23,972.90 L615.93,972.90 L613.69,972.90 L611.50,972.90 L609.36,972.90 L607.27,972.90 L605.22,972.90 L603.20,972.90 L601.21,972.90 L599.25,972.90 L597.31,972.90 L595.38,972.90 L593.46,972.90 L591.55,972.90 L589.63,972.90 L587.71,972.90 L585.79,972.90 L583.84,972.90 L581.88,972.90 L579.89,972.90 L577.87,972.90 L575.81,972.90 L573.71,972.90 L571.57,972.90 L569.38,972.90 L567.13,972.90 L564.82,972.90 L562.44,972.90 L560.00,972.90 L557.48,972.90 L554.87,972.90 L552.18,972.90 L549.41,972.90 L546.53,972.90 L543.55,972.90 L540.47,972.90 L537.28,972.90 L533.97,972.90 L530.54,972.90 L526.98,972.90 L523.29,972.90 L519.46,972.90 L515.50,972.90 L511.39,972.90 L507.12,972.90 L502.70,972.90 L498.12,972.90 L493.37,972.90 L488.45,972.90 L483.35,972.90 L478.08,972.90 L472.61,972.90 L466.95,972.90 L461.10,972.90 Z" fill="#f4f989" fill-opacity="0.85"/>
<path d="M461.10,830.94 L465.53,830.94 L469.82,830.94 L473.96,830.94 L477.97,830.94 L481.84,830.94 L485.59,830.94 L489.21,830.94 L492.72,830.94 L496.11,830.94 L499.40,830.94 L502.58,830.94 L505.66,830.94 L508.66,830.94 L511.56,830.94 L514.39,830.94 L517.13,830.94 L519.81,830.94 L522.41,830.94 L524.96,830.94 L527.44,830.94 L529.88,830.94 L532.27,830.94 L534.61,830.94 L536.92,830.94 L539.20,830.94 L541.45,830.94 L543.68,830.94 L545.89,830.94 L548.09,830.94 L550.28,830.94 L552.47,830.94 L554.67,830.94 L556.87,830.94 L559.09,830.94 L561.32,830.94 L563.58,830.94 L565.87,830.94 L568.19,830.94 L570.55,830.94 L572.95,830.94 L575.40,830.94 L577.91,830.94 L580.47,830.94 L583.10,830.94 L585.80,830.94 L588.57,830.94 L591.42,830.94 L594.35,830.94 L597.37,830.94 L600.49,830.94 L603.70,830.94 L607.02,830.94 L610.45,830.94 L613.99,830.94 L617.66,830.94 L621.44,830.94 L625.36,830.94 L629.41,830.94 L633.60,830.94 L633.60,970.37 L630.80,970.37 L628.10,970.37 L625.48,970.37 L622.94,970.37 L620.48,970.37 L618.09,970.37 L615.77,970.37 L613.51,970.37 L611.30,970.37 L609.15,970.37 L607.04,970.37 L604.97,970.37 L602.94,970.37 L600.94,970.37 L598.96,970.37 L597.00,970.37 L595.07,970.37 L593.14,970.37 L591.21,970.37 L589.29,970.37 L587.37,970.37 L585.43,970.37 L583.48,970.37 L581.51,970.37 L579.51,970.37 L577.49,970.37 L575.43,970.37 L573.33,970.37 L571.19,970.37 L569.00,970.37 L566.75,970.37 L564.44,970.37 L562.07,970.37 L559.63,970.37 L557.11,970.37 L554.51,970.37 L551.83,970.37 L549.06,970.37 L546.19,970.37 L543.22,970.37 L540.15,970.37 L536.96,970.37 L533.67,970.37 L530.25,970.37 L526.70,970.37 L523.03,970.37 L519.22,970.37 L515.27,970.37 L511.17,970.37 L506.93,970.37 L502.52,970.37 L497.96,970.37 L493.23,970.37 L488.33,970.37 L483.26,970.37 L478.00,970.37 L472.56,970.37 L466.93,970.37 L461.10,970.37 Z" fill="#b887cf" fill-opacity="0.85"/>
<path d="M461.10,820.80 L465.43,820.80 L469.62,820.80 L473.67,820.80 L477.59,820.80 L481.37,820.80 L485.03,820.80 L488.58,820.80 L492.01,820.80 L495.32,820.80 L498.54,820.80 L501.66,820.80 L504.68,820.80 L507.61,820.80 L510.46,820.80 L513.23,820.80 L515.93,820.80 L518.56,820.80 L521.12,820.80 L523.63,820.80 L526.08,820.80 L528.48,820.80 L530.84,820.80 L533.17,820.80 L535.45,820.80 L537.71,820.80 L539.95,820.80 L542.17,820.80 L544.37,820.80 L546.57,820.80 L548.76,820.80 L550.96,820.80 L553.16,820.80 L555.37,820.80 L557.60,820.80 L559.85,820.80 L562.13,820.80 L564.44,820.80 L566.79,820.80 L569.18,820.80 L571.62,820.80 L574.11,820.80 L576.66,820.80 L579.27,820.80 L581.95,820.80 L584.69,820.80 L587.52,820.80 L590.43,820.80 L593.43,820.80 L596.51,820.80 L599.70,820.80 L602.99,820.80 L606.39,820.80 L609.90,820.80 L613.52,820.80 L617.27,820.80 L621.15,820.80 L625.16,820.80 L629.31,820.80 L633.60,820.80 L633.60,830.94 L629.41,830.94 L625.36,830.94 L621.44,830.94 L617.66,830.94 L613.99,830.94 L610.45,830.94 L607.02,830.94 L603.70,830.94 L600.49,830.94 L597.37,830.94 L594.35,830.94 L591.42,830.94 L588.57,830.94 L585.80,830.94 L583.10,830.94 L580.47,830.94 L577.91,830.94 L575.40,830.94 L572.95,830.94 L570.55,830.94 L568.19,830.94 L565.87,830.94 L563.58,830.94 L561.32,830.94 L559.09,830.94 L556.87,830.94 L554.67,830.94 L552.47,830.94 L550.28,830.94 L548.09,830.94 L545.89,830.94 L543.68,830.94 L541.45,830.94 L539.20,830.94 L536.92,830.94 L534.61,830.94 L532.27,830.94 L529.88,830.94 L527.44,830.94 L524.96,830.94 L522.41,830.94 L519.81,830.94 L517.13,830.94 L514.39,830.94 L511.56,830.94 L508.66,830.94 L505.66,830.94 L502.58,830.94 L499.40,830.94 L496.11,830.94 L492.72,830.94 L489.21,830.94 L485.59,830.94 L481.84,830.94 L477.97,830.94 L473.96,830.94 L469.82,830.94 L465.53,830.94 L461.10,830.94 Z" fill="#e29ab7" fill-opacity="0.85"/>
<path d="M461.10,810.66 L465.33,810.66 L469.42,810.66 L473.38,810.66 L477.20,810.66 L480.90,810.66 L484.48,810.66 L487.94,810.66 L491.29,810.66 L494.54,810.66 L497.68,810.66 L500.73,810.66 L503.69,810.66 L506.57,810.66 L509.36,810.66 L512.08,810.66 L514.73,810.66 L517.31,810.66 L519.83,810.66 L522.30,810.66 L524.72,810.66 L527.09,810.66 L529.42,810.66 L531.72,810.66 L533.99,810.66 L536.23,810.66 L538.45,810.66 L540.66,810.66 L542.86,810.66 L545.05,810.66 L547.24,810.66 L549.44,810.66 L551.65,810.66 L553.87,810.66 L556.12,810.66 L558.39,810.66 L560.69,810.66 L563.02,810.66 L565.40,810.66 L567.82,810.66 L570.29,810.66 L572.82,810.66 L575.41,810.66 L578.07,810.66 L580.79,810.66 L583.59,810.66 L586.48,810.66 L589.44,810.66 L592.50,810.66 L595.66,810.66 L598.91,810.66 L602.28,810.66 L605.75,810.66 L609.34,810.66 L613.05,810.66 L616.89,810.66 L620.86,810.66 L624.96,810.66 L629.21,810.66 L633.60,810.66 L633.60,820.80 L629.31,820.80 L625.16,820.80 L621.15,820.80 L617.27,820.80 L613.52,820.80 L609.90,820.80 L606.39,820.80 L602.99,820.80 L599.70,820.80 L596.51,820.80 L593.43,820.80 L590.43,820.80 L587.52,820.80 L584.69,820.80 L581.95,820.80 L579.27,820.80 L576.66,820.80 L574.11,820.80 L571.62,820.80 L569.18,820.80 L566.79,820.80 L564.44,820.80 L562.13,820.80 L559.85,820.80 L557.60,820.80 L555.37,820.80 L553.16,820.80 L550.96,820.80 L548.76,820.80 L546.57,820.80 L544.37,820.80 L542.17,820.80 L539.95,820.80 L537.71,820.80 L535.45,820.80 L533.17,820.80 L530.84,820.80 L528.48,820.80 L526.08,820.80 L523.63,820.80 L521.12,820.80 L518.56,820.80 L515.93,820.80 L513.23,820.80 L510.46,820.80 L507.61,820.80 L504.68,820.80 L501.66,820.80 L498.54,820.80 L495.32,820.80 L492.01,820.80 L488.58,820.80 L485.03,820.80 L481.37,820.80 L477.59,820.80 L473.67,820.80 L469.62,820.80 L465.43,820.80 L461.10,820.80 Z" fill="#b887cf" fill-opacity="0.85"/>
<path d="M461.10,663.63 L463.86,663.63 L466.53,663.63 L469.12,663.63 L471.63,663.63 L474.06,663.63 L476.42,663.63 L478.72,663.63 L480.95,663.63 L483.13,663.63 L485.27,663.63 L487.35,663.63 L489.40,663.63 L491.41,663.63 L493.39,663.63 L495.35,663.63 L497.29,663.63 L499.22,663.63 L501.13,663.63 L503.04,663.63 L504.95,663.63 L506.87,663.63 L508.79,663.63 L510.73,663.63 L512.70,663.63 L514.69,663.63 L516.71,663.63 L518.76,663.63 L520.86,663.63 L523.00,663.63 L525.19,663.63 L527.44,663.63 L529.75,663.63 L532.13,663.63 L534.57,663.63 L537.10,663.63 L539.70,663.63 L542.39,663.63 L545.18,663.63 L548.05,663.63 L551.03,663.63 L554.12,663.63 L557.32,663.63 L560.63,663.63 L564.07,663.63 L567.63,663.63 L571.32,663.63 L575.15,663.63 L579.12,663.63 L583.24,663.63 L587.51,663.63 L591.94,663.63 L596.53,663.63 L601.28,663.63 L606.21,663.63 L611.31,663.63 L616.60,663.63 L622.07,663.63 L627.74,663.63 L633.60,663.63 L633.60,810.66 L629.21,810.66 L624.96,810.66 L620.86,810.66 L616.89,810.66 L613.05,810.66 L609.34,810.66 L605.75,810.66 L602.28,810.66 L598.91,810.66 L595.66,810.66 L592.50,810.66 L589.44,810.66 L586.48,810.66 L583.59,810.66 L580.79,810.66 L578.07,810.66 L575.41,810.66 L572.82,810.66 L570.29,810.66 L567.82,810.66 L565.40,810.66 L563.02,810.66 L560.69,810.66 L558.39,810.66 L556.12,810.66 L553.87,810.66 L551.65,810.66 L549.44,810.66 L547.24,810.66 L545.05,810.66 L542.86,810.66 L540.66,810.66 L538.45,810.66 L536.23,810.66 L533.99,810.66 L531.72,810.66 L529.42,810.66 L527.09,810.66 L524.72,810.66 L522.30,810.66 L519.83,810.66 L517.31,810.66 L514.73,810.66 L512.08,810.66 L509.36,810.66 L506.57,810.66 L503.69,810.66 L500.73,810.66 L497.68,810.66 L494.54,810.66 L491.29,810.66 L487.94,810.66 L484.48,810.66 L480.90,810.66 L477.20,810.66 L473.38,810.66 L469.42,810.66 L465.33,810.66 L461.10,810.66 Z" fill="#8182be" fill-opacity="0.85"/>
<rect x="116.5" y="663.63" width="86.30" height="157.17" fill="#f4ddfd" stroke="#000" stroke-width="2.6" stroke-linejoin="round"/>
<rect x="116.5" y="820.80" width="86.30" height="152.10" fill="#fffade" stroke="#000" stroke-width="2.6" stroke-linejoin="round"/>
<rect x="375.1" y="663.63" width="86.00" height="157.17" fill="#f4ddfd" stroke="#000" stroke-width="2.6" stroke-linejoin="round"/>
<rect x="375.1" y="820.80" width="86.00" height="152.10" fill="#fffade" stroke="#000" stroke-width="2.6" stroke-linejoin="round"/>
<rect x="633.6" y="663.63" width="85.70" height="306.74" fill="#f4ddfd" stroke="#000" stroke-width="2.6" stroke-linejoin="round"/>
<rect x="633.6" y="970.37" width="85.70" height="2.53" fill="#fffade" stroke="#000" stroke-width="2.6" stroke-linejoin="round"/>
<rect x="88" y="649.5" width="660.8" height="338.5" fill="none" stroke="#454545" stroke-width="1.45"/>
<text transform="translate(159.6,751.5) scale(0.82,1)" font-size="25" fill="#000" text-anchor="middle">detected</text>
<text transform="translate(159.6,890.4) scale(0.82,1)" font-size="25" fill="#000" text-anchor="middle">not</text>
<text transform="translate(159.6,921.7) scale(0.82,1)" font-size="25" fill="#000" text-anchor="middle">detected</text>
<text transform="translate(418.0,751.5) scale(0.82,1)" font-size="25" fill="#000" text-anchor="middle">detected</text>
<text transform="translate(418.0,890.4) scale(0.82,1)" font-size="25" fill="#000" text-anchor="middle">not</text>
<text transform="translate(418.0,921.7) scale(0.82,1)" font-size="25" fill="#000" text-anchor="middle">detected</text>
<text transform="translate(676.4,826) scale(0.82,1)" font-size="25" fill="#000" text-anchor="middle">detected</text>
<text x="74.5" y="981.1" font-size="23" fill="#4d4d4d" text-anchor="end" font-weight="normal">0</text>
<text x="74.5" y="917.725" font-size="23" fill="#4d4d4d" text-anchor="end" font-weight="normal">25</text>
<text x="74.5" y="854.35" font-size="23" fill="#4d4d4d" text-anchor="end" font-weight="normal">50</text>
<text x="74.5" y="790.975" font-size="23" fill="#4d4d4d" text-anchor="end" font-weight="normal">75</text>
<text x="74.5" y="727.6" font-size="23" fill="#4d4d4d" text-anchor="end" font-weight="normal">100</text>
<text x="74.5" y="664.225" font-size="23" fill="#4d4d4d" text-anchor="end" font-weight="normal">125</text>
<text x="159.6" y="1018.1" font-size="23" fill="#4d4d4d" text-anchor="middle" font-weight="normal">June 2020</text>
<text x="159.6" y="1044" font-size="23" fill="#4d4d4d" text-anchor="middle" font-weight="normal">(6 months</text>
<text x="159.6" y="1068.5" font-size="23" fill="#4d4d4d" text-anchor="middle" font-weight="normal">pre-vaccination)</text>
<text x="418.0" y="1018.1" font-size="23" fill="#4d4d4d" text-anchor="middle" font-weight="normal">Dec 2020</text>
<text x="418.0" y="1044" font-size="23" fill="#4d4d4d" text-anchor="middle" font-weight="normal">(2 weeks</text>
<text x="418.0" y="1068.5" font-size="23" fill="#4d4d4d" text-anchor="middle" font-weight="normal">pre-vaccination)</text>
<text x="676.4" y="1018.1" font-size="23" fill="#4d4d4d" text-anchor="middle" font-weight="normal">Apr 2021</text>
<text x="676.4" y="1044" font-size="23" fill="#4d4d4d" text-anchor="middle" font-weight="normal">(4 weeks after</text>
<text x="676.4" y="1068.5" font-size="23" fill="#4d4d4d" text-anchor="middle" font-weight="normal">2nd vaccine dose)</text>
<text transform="translate(23.4,818.7) rotate(-90)" font-size="30" fill="#000" text-anchor="middle" textLength="247" lengthAdjust="spacingAndGlyphs">Number of patients</text>
<text x="910.9" y="41.3" font-size="29" fill="#000" text-anchor="start" font-weight="normal">Overall trajectory</text>
<rect x="911.7" y="59.9" width="43" height="42.4" fill="#9495c8"/>
<text x="970.8" y="89.9" font-size="23.4" fill="#000" text-anchor="start" font-weight="normal">consistently positive</text>
<rect x="911.7" y="106.1" width="43" height="42.4" fill="#c399d6"/>
<text x="970.8" y="136.1" font-size="23.4" fill="#000" text-anchor="start" font-weight="normal">seroconverted</text>
<rect x="911.7" y="152.3" width="43" height="42.4" fill="#e6a9c2"/>
<text x="970.8" y="182.3" font-size="23.4" fill="#000" text-anchor="start" font-weight="normal">mixed</text>
<rect x="911.7" y="198.5" width="43" height="42.4" fill="#facda8"/>
<text x="970.8" y="228.5" font-size="23.4" fill="#000" text-anchor="start" font-weight="normal">seroreverted</text>
<rect x="911.7" y="244.7" width="43" height="42.4" fill="#f6fa9b"/>
<text x="970.8" y="274.7" font-size="23.4" fill="#000" text-anchor="start" font-weight="normal">consistently negative</text>
<rect x="912" y="404.5" width="409.3" height="583" fill="#fff"/>
<line x1="983.5" x2="983.5" y1="426" y2="987" stroke="#ebebeb" stroke-width="2"/>
<line x1="1247.6" x2="1247.6" y1="426" y2="987" stroke="#ebebeb" stroke-width="2"/>
<rect x="911.6" y="341.2" width="51" height="51" rx="1.5" fill="#fff" stroke="#383838" stroke-width="1.8"/>
<text transform="translate(936.5,375.7) scale(1.43,1)" font-size="34.7" fill="#000" text-anchor="middle">c</text>
<text x="977.2" y="380.5" font-size="33" fill="#000" text-anchor="start" font-weight="bold" textLength="216" lengthAdjust="spacingAndGlyphs">Abbott IgG CMIA</text>
<path d="M1028.00,971.80 L1032.45,971.77 L1036.76,971.68 L1040.93,971.54 L1044.96,971.34 L1048.86,971.09 L1052.62,970.78 L1056.26,970.42 L1059.77,970.02 L1063.16,969.56 L1066.43,969.06 L1069.59,968.51 L1072.63,967.92 L1075.56,967.28 L1078.38,966.60 L1081.10,965.88 L1083.72,965.13 L1086.24,964.33 L1088.66,963.50 L1090.99,962.63 L1093.23,961.73 L1095.39,960.79 L1097.46,959.83 L1099.45,958.83 L1101.37,957.81 L1103.21,956.76 L1104.97,955.68 L1106.67,954.58 L1108.31,953.45 L1109.88,952.30 L1111.39,951.13 L1112.85,949.95 L1114.25,948.74 L1115.61,947.52 L1116.91,946.28 L1118.17,945.03 L1119.39,943.77 L1120.57,942.49 L1121.72,941.21 L1122.83,939.91 L1123.91,938.61 L1124.97,937.30 L1126.00,935.99 L1127.01,934.68 L1128.01,933.36 L1128.99,932.04 L1129.96,930.72 L1130.92,929.41 L1131.87,928.10 L1132.83,926.79 L1133.78,925.49 L1134.73,924.19 L1135.70,922.91 L1136.67,921.63 L1137.65,920.37 L1138.65,919.12 L1139.67,917.88 L1140.71,916.66 L1141.78,915.45 L1142.87,914.27 L1143.99,913.10 L1145.14,911.95 L1146.34,910.82 L1147.57,909.72 L1148.84,908.64 L1150.16,907.59 L1151.53,906.57 L1152.94,905.57 L1154.42,904.61 L1155.95,903.67 L1157.54,902.77 L1159.19,901.90 L1160.91,901.07 L1162.70,900.27 L1164.56,899.52 L1166.50,898.80 L1168.51,898.12 L1170.61,897.48 L1172.79,896.89 L1175.06,896.34 L1177.42,895.84 L1179.87,895.38 L1182.42,894.98 L1185.06,894.62 L1187.81,894.31 L1190.67,894.06 L1193.63,893.86 L1196.71,893.72 L1199.89,893.63 L1203.20,893.60 L1203.20,895.70 L1199.89,895.73 L1196.71,895.82 L1193.63,895.96 L1190.67,896.16 L1187.81,896.41 L1185.06,896.72 L1182.42,897.08 L1179.87,897.48 L1177.42,897.94 L1175.06,898.44 L1172.79,898.99 L1170.61,899.58 L1168.51,900.22 L1166.50,900.90 L1164.56,901.62 L1162.70,902.37 L1160.91,903.17 L1159.19,904.00 L1157.54,904.87 L1155.95,905.77 L1154.42,906.71 L1152.94,907.67 L1151.53,908.67 L1150.16,909.69 L1148.84,910.74 L1147.57,911.82 L1146.34,912.92 L1145.14,914.05 L1143.99,915.20 L1142.87,916.37 L1141.78,917.55 L1140.71,918.76 L1139.67,919.98 L1138.65,921.22 L1137.65,922.47 L1136.67,923.73 L1135.70,925.01 L1134.73,926.29 L1133.78,927.59 L1132.83,928.89 L1131.87,930.20 L1130.92,931.51 L1129.96,932.82 L1128.99,934.14 L1128.01,935.46 L1127.01,936.78 L1126.00,938.09 L1124.97,939.40 L1123.91,940.71 L1122.83,942.01 L1121.72,943.31 L1120.57,944.59 L1119.39,945.87 L1118.17,947.13 L1116.91,948.38 L1115.61,949.62 L1114.25,950.84 L1112.85,952.05 L1111.39,953.23 L1109.88,954.40 L1108.31,955.55 L1106.67,956.68 L1104.97,957.78 L1103.21,958.86 L1101.37,959.91 L1099.45,960.93 L1097.46,961.93 L1095.39,962.89 L1093.23,963.83 L1090.99,964.73 L1088.66,965.60 L1086.24,966.43 L1083.72,967.23 L1081.10,967.98 L1078.38,968.70 L1075.56,969.38 L1072.63,970.02 L1069.59,970.61 L1066.43,971.16 L1063.16,971.66 L1059.77,972.12 L1056.26,972.52 L1052.62,972.88 L1048.86,973.19 L1044.96,973.44 L1040.93,973.64 L1036.76,973.78 L1032.45,973.87 L1028.00,973.90 Z" fill="#f4f989" fill-opacity="0.85"/>
<path d="M1028.00,900.30 L1031.07,900.23 L1034.08,900.01 L1037.04,899.64 L1039.93,899.14 L1042.78,898.50 L1045.57,897.73 L1048.31,896.83 L1051.00,895.80 L1053.64,894.65 L1056.22,893.38 L1058.77,891.99 L1061.26,890.49 L1063.71,888.88 L1066.12,887.17 L1068.48,885.35 L1070.80,883.44 L1073.08,881.43 L1075.32,879.32 L1077.52,877.13 L1079.68,874.85 L1081.81,872.49 L1083.90,870.05 L1085.96,867.53 L1087.98,864.94 L1089.97,862.28 L1091.94,859.56 L1093.87,856.78 L1095.77,853.93 L1097.65,851.03 L1099.50,848.08 L1101.33,845.08 L1103.13,842.03 L1104.91,838.95 L1106.67,835.82 L1108.40,832.66 L1110.12,829.46 L1111.82,826.24 L1113.50,822.99 L1115.17,819.72 L1116.82,816.44 L1118.46,813.13 L1120.08,809.82 L1121.70,806.49 L1123.30,803.17 L1124.90,799.83 L1126.48,796.51 L1128.06,793.18 L1129.64,789.87 L1131.21,786.56 L1132.77,783.28 L1134.33,780.01 L1135.90,776.76 L1137.46,773.54 L1139.02,770.34 L1140.59,767.18 L1142.16,764.05 L1143.73,760.97 L1145.31,757.92 L1146.89,754.92 L1148.49,751.97 L1150.09,749.07 L1151.70,746.22 L1153.33,743.44 L1154.96,740.72 L1156.61,738.06 L1158.28,735.47 L1159.96,732.95 L1161.65,730.51 L1163.37,728.15 L1165.10,725.87 L1166.86,723.68 L1168.63,721.57 L1170.43,719.56 L1172.25,717.65 L1174.10,715.83 L1175.97,714.12 L1177.87,712.51 L1179.80,711.01 L1181.76,709.62 L1183.75,708.35 L1185.77,707.20 L1187.82,706.17 L1189.91,705.27 L1192.03,704.50 L1194.18,703.86 L1196.38,703.36 L1198.61,702.99 L1200.89,702.77 L1203.20,702.70 L1203.20,775.50 L1201.78,775.57 L1200.38,775.79 L1199.00,776.15 L1197.64,776.65 L1196.29,777.29 L1194.96,778.06 L1193.64,778.95 L1192.34,779.97 L1191.05,781.12 L1189.78,782.38 L1188.51,783.75 L1187.25,785.24 L1186.00,786.84 L1184.76,788.54 L1183.52,790.35 L1182.29,792.25 L1181.06,794.25 L1179.83,796.34 L1178.60,798.52 L1177.37,800.78 L1176.15,803.13 L1174.92,805.55 L1173.68,808.05 L1172.45,810.63 L1171.20,813.27 L1169.95,815.97 L1168.69,818.74 L1167.43,821.56 L1166.15,824.44 L1164.86,827.38 L1163.56,830.36 L1162.24,833.38 L1160.91,836.45 L1159.57,839.56 L1158.21,842.70 L1156.83,845.87 L1155.43,849.07 L1154.01,852.30 L1152.56,855.55 L1151.10,858.81 L1149.61,862.09 L1148.10,865.39 L1146.56,868.69 L1144.99,872.00 L1143.40,875.30 L1141.78,878.61 L1140.12,881.91 L1138.43,885.21 L1136.71,888.49 L1134.96,891.75 L1133.17,895.00 L1131.35,898.23 L1129.49,901.43 L1127.59,904.60 L1125.65,907.74 L1123.67,910.85 L1121.64,913.92 L1119.58,916.94 L1117.47,919.92 L1115.31,922.86 L1113.11,925.74 L1110.86,928.56 L1108.56,931.33 L1106.21,934.03 L1103.82,936.67 L1101.36,939.25 L1098.86,941.75 L1096.30,944.17 L1093.69,946.52 L1091.02,948.78 L1088.29,950.96 L1085.50,953.05 L1082.65,955.05 L1079.74,956.95 L1076.77,958.76 L1073.74,960.46 L1070.64,962.06 L1067.47,963.55 L1064.24,964.92 L1060.94,966.18 L1057.57,967.33 L1054.14,968.35 L1050.62,969.24 L1047.04,970.01 L1043.39,970.65 L1039.65,971.15 L1035.85,971.51 L1031.96,971.73 L1028.00,971.80 Z" fill="#b887cf" fill-opacity="0.85"/>
<path d="M1028.00,828.40 L1030.69,828.31 L1033.33,828.04 L1035.93,827.59 L1038.47,826.98 L1040.98,826.19 L1043.43,825.24 L1045.85,824.14 L1048.22,822.88 L1050.54,821.47 L1052.83,819.91 L1055.08,818.21 L1057.29,816.37 L1059.47,814.40 L1061.61,812.30 L1063.71,810.07 L1065.78,807.72 L1067.82,805.26 L1069.83,802.68 L1071.81,799.99 L1073.76,797.19 L1075.68,794.30 L1077.57,791.30 L1079.44,788.22 L1081.29,785.04 L1083.11,781.79 L1084.91,778.45 L1086.68,775.03 L1088.44,771.54 L1090.18,767.99 L1091.90,764.37 L1093.61,760.69 L1095.30,756.95 L1096.98,753.17 L1098.64,749.33 L1100.29,745.46 L1101.93,741.54 L1103.56,737.59 L1105.18,733.61 L1106.80,729.60 L1108.41,725.56 L1110.01,721.51 L1111.61,717.45 L1113.21,713.37 L1114.80,709.29 L1116.40,705.21 L1117.99,701.13 L1119.59,697.05 L1121.19,692.99 L1122.79,688.94 L1124.40,684.90 L1126.02,680.89 L1127.64,676.91 L1129.27,672.96 L1130.91,669.04 L1132.56,665.17 L1134.22,661.33 L1135.90,657.55 L1137.59,653.81 L1139.30,650.13 L1141.02,646.51 L1142.76,642.96 L1144.52,639.47 L1146.29,636.05 L1148.09,632.71 L1149.91,629.46 L1151.76,626.28 L1153.63,623.20 L1155.52,620.20 L1157.44,617.31 L1159.39,614.51 L1161.37,611.82 L1163.38,609.24 L1165.42,606.78 L1167.49,604.43 L1169.59,602.20 L1171.73,600.10 L1173.91,598.13 L1176.12,596.29 L1178.37,594.59 L1180.66,593.03 L1182.98,591.62 L1185.35,590.36 L1187.77,589.26 L1190.22,588.31 L1192.73,587.52 L1195.27,586.91 L1197.87,586.46 L1200.51,586.19 L1203.20,586.10 L1203.20,657.50 L1200.78,657.59 L1198.39,657.86 L1196.05,658.31 L1193.76,658.93 L1191.50,659.71 L1189.28,660.66 L1187.09,661.77 L1184.95,663.03 L1182.84,664.45 L1180.76,666.01 L1178.72,667.71 L1176.71,669.55 L1174.72,671.53 L1172.77,673.63 L1170.85,675.87 L1168.96,678.22 L1167.09,680.69 L1165.24,683.28 L1163.42,685.97 L1161.62,688.77 L1159.85,691.67 L1158.09,694.67 L1156.36,697.76 L1154.64,700.95 L1152.94,704.21 L1151.26,707.56 L1149.59,710.98 L1147.93,714.47 L1146.29,718.04 L1144.66,721.66 L1143.04,725.35 L1141.43,729.09 L1139.82,732.89 L1138.23,736.73 L1136.64,740.62 L1135.05,744.54 L1133.47,748.50 L1131.89,752.49 L1130.31,756.51 L1128.73,760.55 L1127.15,764.61 L1125.57,768.68 L1123.99,772.76 L1122.40,776.85 L1120.80,780.95 L1119.20,785.04 L1117.59,789.12 L1115.97,793.19 L1114.35,797.25 L1112.71,801.29 L1111.06,805.31 L1109.39,809.30 L1107.71,813.26 L1106.02,817.18 L1104.30,821.07 L1102.58,824.91 L1100.83,828.71 L1099.06,832.45 L1097.27,836.14 L1095.45,839.76 L1093.62,843.33 L1091.76,846.82 L1089.87,850.24 L1087.95,853.59 L1086.01,856.85 L1084.04,860.04 L1082.04,863.13 L1080.00,866.13 L1077.94,869.03 L1075.84,871.83 L1073.70,874.52 L1071.53,877.11 L1069.32,879.58 L1067.08,881.93 L1064.79,884.17 L1062.46,886.27 L1060.09,888.25 L1057.68,890.09 L1055.23,891.79 L1052.73,893.35 L1050.18,894.77 L1047.58,896.03 L1044.94,897.14 L1042.25,898.09 L1039.51,898.87 L1036.71,899.49 L1033.86,899.94 L1030.96,900.21 L1028.00,900.30 Z" fill="#b887cf" fill-opacity="0.85"/>
<path d="M1028.00,723.60 L1030.36,723.52 L1032.67,723.29 L1034.95,722.91 L1037.19,722.39 L1039.39,721.72 L1041.55,720.92 L1043.67,719.98 L1045.76,718.91 L1047.82,717.71 L1049.84,716.39 L1051.83,714.94 L1053.79,713.38 L1055.73,711.70 L1057.63,709.92 L1059.51,708.03 L1061.36,706.03 L1063.19,703.93 L1064.99,701.74 L1066.77,699.45 L1068.53,697.08 L1070.27,694.62 L1071.99,692.08 L1073.69,689.45 L1075.38,686.76 L1077.05,683.99 L1078.70,681.15 L1080.34,678.25 L1081.97,675.28 L1083.59,672.26 L1085.20,669.19 L1086.80,666.06 L1088.39,662.89 L1089.98,659.67 L1091.56,656.41 L1093.13,653.12 L1094.70,649.79 L1096.27,646.43 L1097.84,643.05 L1099.41,639.64 L1100.98,636.21 L1102.56,632.77 L1104.13,629.32 L1105.72,625.85 L1107.30,622.39 L1108.90,618.91 L1110.50,615.45 L1112.11,611.98 L1113.74,608.53 L1115.37,605.09 L1117.02,601.66 L1118.68,598.25 L1120.35,594.87 L1122.04,591.51 L1123.75,588.18 L1125.48,584.89 L1127.23,581.63 L1128.99,578.41 L1130.78,575.24 L1132.59,572.11 L1134.43,569.04 L1136.29,566.02 L1138.18,563.05 L1140.09,560.15 L1142.03,557.31 L1144.01,554.54 L1146.01,551.85 L1148.05,549.22 L1150.11,546.68 L1152.22,544.22 L1154.35,541.85 L1156.53,539.56 L1158.74,537.37 L1160.99,535.27 L1163.28,533.27 L1165.61,531.38 L1167.99,529.60 L1170.41,527.92 L1172.87,526.36 L1175.37,524.91 L1177.93,523.59 L1180.53,522.39 L1183.18,521.32 L1185.88,520.38 L1188.63,519.58 L1191.44,518.91 L1194.29,518.39 L1197.21,518.01 L1200.18,517.78 L1203.20,517.70 L1203.20,586.10 L1200.60,586.18 L1198.04,586.41 L1195.53,586.79 L1193.07,587.32 L1190.65,587.99 L1188.27,588.80 L1185.93,589.75 L1183.64,590.83 L1181.38,592.04 L1179.16,593.38 L1176.98,594.83 L1174.84,596.41 L1172.73,598.10 L1170.65,599.90 L1168.61,601.81 L1166.60,603.82 L1164.61,605.94 L1162.66,608.15 L1160.74,610.46 L1158.84,612.85 L1156.96,615.33 L1155.12,617.90 L1153.29,620.54 L1151.49,623.26 L1149.71,626.06 L1147.95,628.92 L1146.21,631.85 L1144.48,634.84 L1142.78,637.89 L1141.08,640.99 L1139.41,644.14 L1137.74,647.34 L1136.09,650.59 L1134.45,653.88 L1132.82,657.20 L1131.20,660.56 L1129.58,663.94 L1127.97,667.36 L1126.37,670.79 L1124.77,674.25 L1123.18,677.72 L1121.58,681.21 L1119.99,684.70 L1118.40,688.20 L1116.80,691.70 L1115.21,695.20 L1113.60,698.69 L1112.00,702.18 L1110.39,705.65 L1108.77,709.11 L1107.14,712.54 L1105.50,715.96 L1103.86,719.34 L1102.20,722.70 L1100.53,726.02 L1098.84,729.31 L1097.14,732.56 L1095.43,735.76 L1093.69,738.91 L1091.94,742.01 L1090.17,745.06 L1088.37,748.05 L1086.56,750.98 L1084.72,753.84 L1082.86,756.64 L1080.97,759.36 L1079.06,762.00 L1077.12,764.57 L1075.15,767.05 L1073.15,769.44 L1071.12,771.75 L1069.06,773.96 L1066.96,776.08 L1064.83,778.09 L1062.67,780.00 L1060.47,781.80 L1058.23,783.49 L1055.95,785.07 L1053.63,786.52 L1051.27,787.86 L1048.87,789.07 L1046.43,790.15 L1043.94,791.10 L1041.40,791.91 L1038.82,792.58 L1036.19,793.11 L1033.51,793.49 L1030.78,793.72 L1028.00,793.80 Z" fill="#8182be" fill-opacity="0.85"/>
<path d="M1028.00,667.50 L1029.80,667.41 L1031.58,667.15 L1033.32,666.72 L1035.04,666.12 L1036.73,665.36 L1038.40,664.44 L1040.05,663.36 L1041.67,662.14 L1043.27,660.77 L1044.85,659.26 L1046.42,657.61 L1047.96,655.83 L1049.49,653.91 L1051.00,651.87 L1052.50,649.71 L1053.99,647.43 L1055.46,645.03 L1056.92,642.53 L1058.38,639.92 L1059.82,637.21 L1061.26,634.40 L1062.68,631.49 L1064.11,628.50 L1065.53,625.41 L1066.95,622.25 L1068.36,619.01 L1069.78,615.69 L1071.19,612.31 L1072.61,608.86 L1074.03,605.34 L1075.45,601.77 L1076.88,598.15 L1078.31,594.47 L1079.75,590.75 L1081.20,586.99 L1082.66,583.18 L1084.13,579.35 L1085.61,575.48 L1087.10,571.59 L1088.61,567.68 L1090.13,563.75 L1091.67,559.80 L1093.23,555.84 L1094.81,551.88 L1096.40,547.92 L1098.02,543.96 L1099.65,540.00 L1101.31,536.05 L1103.00,532.12 L1104.71,528.21 L1106.44,524.32 L1108.21,520.45 L1110.00,516.62 L1111.82,512.81 L1113.67,509.05 L1115.56,505.33 L1117.48,501.65 L1119.43,498.03 L1121.42,494.46 L1123.44,490.94 L1125.51,487.49 L1127.61,484.11 L1129.75,480.79 L1131.93,477.55 L1134.16,474.39 L1136.43,471.30 L1138.74,468.31 L1141.10,465.40 L1143.51,462.59 L1145.96,459.88 L1148.46,457.27 L1151.02,454.77 L1153.62,452.37 L1156.28,450.09 L1158.99,447.93 L1161.75,445.89 L1164.57,443.97 L1167.45,442.19 L1170.39,440.54 L1173.38,439.03 L1176.44,437.66 L1179.56,436.44 L1182.74,435.36 L1185.98,434.44 L1189.29,433.68 L1192.67,433.08 L1196.11,432.65 L1199.62,432.39 L1203.20,432.30 L1203.20,488.20 L1200.09,488.29 L1197.03,488.55 L1194.03,488.98 L1191.09,489.58 L1188.21,490.35 L1185.38,491.27 L1182.60,492.34 L1179.88,493.56 L1177.20,494.93 L1174.58,496.45 L1172.00,498.10 L1169.47,499.88 L1166.99,501.80 L1164.55,503.84 L1162.16,506.01 L1159.81,508.29 L1157.51,510.68 L1155.24,513.19 L1153.01,515.80 L1150.82,518.52 L1148.67,521.33 L1146.56,524.24 L1144.48,527.24 L1142.43,530.32 L1140.42,533.49 L1138.44,536.73 L1136.49,540.05 L1134.56,543.44 L1132.67,546.89 L1130.80,550.41 L1128.97,553.98 L1127.15,557.61 L1125.36,561.29 L1123.59,565.02 L1121.84,568.78 L1120.12,572.59 L1118.41,576.43 L1116.72,580.30 L1115.05,584.19 L1113.39,588.11 L1111.75,592.04 L1110.12,595.99 L1108.50,599.95 L1106.90,603.92 L1105.30,607.88 L1103.72,611.85 L1102.14,615.81 L1100.57,619.76 L1099.00,623.69 L1097.44,627.61 L1095.89,631.50 L1094.33,635.37 L1092.78,639.21 L1091.22,643.02 L1089.67,646.78 L1088.11,650.51 L1086.55,654.19 L1084.98,657.82 L1083.41,661.39 L1081.83,664.91 L1080.25,668.36 L1078.65,671.75 L1077.05,675.07 L1075.43,678.31 L1073.80,681.48 L1072.16,684.56 L1070.50,687.56 L1068.83,690.47 L1067.14,693.28 L1065.43,696.00 L1063.70,698.61 L1061.95,701.12 L1060.18,703.51 L1058.39,705.79 L1056.57,707.96 L1054.73,710.00 L1052.86,711.92 L1050.97,713.70 L1049.04,715.35 L1047.09,716.87 L1045.11,718.24 L1043.09,719.46 L1041.04,720.53 L1038.96,721.45 L1036.84,722.22 L1034.69,722.82 L1032.50,723.25 L1030.27,723.51 L1028.00,723.60 Z" fill="#8182be" fill-opacity="0.85"/>
<path d="M1028.00,576.70 L1030.29,576.64 L1032.54,576.47 L1034.76,576.19 L1036.93,575.80 L1039.07,575.30 L1041.17,574.70 L1043.24,574.00 L1045.27,573.20 L1047.27,572.31 L1049.24,571.33 L1051.18,570.25 L1053.09,569.09 L1054.98,567.84 L1056.84,566.51 L1058.67,565.10 L1060.48,563.61 L1062.26,562.05 L1064.02,560.41 L1065.76,558.71 L1067.48,556.94 L1069.19,555.11 L1070.87,553.21 L1072.54,551.26 L1074.20,549.25 L1075.83,547.19 L1077.46,545.07 L1079.08,542.91 L1080.68,540.70 L1082.27,538.45 L1083.86,536.16 L1085.44,533.83 L1087.01,531.47 L1088.58,529.07 L1090.14,526.64 L1091.70,524.19 L1093.26,521.71 L1094.82,519.21 L1096.38,516.69 L1097.94,514.15 L1099.50,511.59 L1101.07,509.03 L1102.64,506.46 L1104.22,503.88 L1105.80,501.29 L1107.40,498.71 L1109.00,496.12 L1110.62,493.54 L1112.24,490.97 L1113.88,488.41 L1115.54,485.85 L1117.21,483.31 L1118.89,480.79 L1120.60,478.29 L1122.32,475.81 L1124.06,473.36 L1125.83,470.93 L1127.61,468.53 L1129.42,466.17 L1131.25,463.84 L1133.11,461.55 L1135.00,459.30 L1136.91,457.09 L1138.85,454.93 L1140.82,452.81 L1142.82,450.75 L1144.86,448.74 L1146.93,446.79 L1149.03,444.89 L1151.17,443.06 L1153.35,441.29 L1155.56,439.59 L1157.81,437.95 L1160.11,436.39 L1162.44,434.90 L1164.82,433.49 L1167.24,432.16 L1169.71,430.91 L1172.22,429.75 L1174.78,428.67 L1177.38,427.69 L1180.04,426.80 L1182.75,426.00 L1185.50,425.30 L1188.31,424.70 L1191.18,424.20 L1194.10,423.81 L1197.08,423.53 L1200.11,423.36 L1203.20,423.30 L1203.20,431.90 L1200.11,431.96 L1197.08,432.13 L1194.10,432.41 L1191.18,432.80 L1188.31,433.29 L1185.50,433.89 L1182.75,434.59 L1180.04,435.39 L1177.38,436.28 L1174.78,437.26 L1172.22,438.33 L1169.71,439.49 L1167.24,440.74 L1164.82,442.07 L1162.44,443.47 L1160.11,444.96 L1157.81,446.51 L1155.56,448.14 L1153.35,449.84 L1151.17,451.61 L1149.03,453.43 L1146.93,455.32 L1144.86,457.27 L1142.82,459.28 L1140.82,461.33 L1138.85,463.44 L1136.91,465.60 L1135.00,467.80 L1133.11,470.05 L1131.25,472.33 L1129.42,474.66 L1127.61,477.01 L1125.83,479.41 L1124.06,481.83 L1122.32,484.27 L1120.60,486.75 L1118.89,489.24 L1117.21,491.76 L1115.54,494.29 L1113.88,496.84 L1112.24,499.39 L1110.62,501.96 L1109.00,504.53 L1107.40,507.11 L1105.80,509.69 L1104.22,512.27 L1102.64,514.84 L1101.07,517.41 L1099.50,519.96 L1097.94,522.51 L1096.38,525.04 L1094.82,527.56 L1093.26,530.05 L1091.70,532.53 L1090.14,534.97 L1088.58,537.39 L1087.01,539.79 L1085.44,542.14 L1083.86,544.47 L1082.27,546.75 L1080.68,549.00 L1079.08,551.20 L1077.46,553.36 L1075.83,555.47 L1074.20,557.52 L1072.54,559.53 L1070.87,561.48 L1069.19,563.37 L1067.48,565.19 L1065.76,566.96 L1064.02,568.66 L1062.26,570.29 L1060.48,571.84 L1058.67,573.33 L1056.84,574.73 L1054.98,576.06 L1053.09,577.31 L1051.18,578.47 L1049.24,579.54 L1047.27,580.52 L1045.27,581.41 L1043.24,582.21 L1041.17,582.91 L1039.07,583.51 L1036.93,584.00 L1034.76,584.39 L1032.54,584.67 L1030.29,584.84 L1028.00,584.90 Z" fill="#8182be" fill-opacity="0.85"/>
<path d="M1028.00,584.90 L1030.78,584.87 L1033.51,584.79 L1036.19,584.66 L1038.82,584.47 L1041.40,584.23 L1043.94,583.94 L1046.43,583.61 L1048.87,583.23 L1051.27,582.80 L1053.63,582.32 L1055.95,581.81 L1058.23,581.25 L1060.47,580.65 L1062.67,580.02 L1064.83,579.34 L1066.96,578.63 L1069.06,577.88 L1071.12,577.10 L1073.15,576.28 L1075.15,575.43 L1077.12,574.55 L1079.06,573.65 L1080.97,572.71 L1082.86,571.75 L1084.72,570.76 L1086.56,569.75 L1088.37,568.71 L1090.17,567.65 L1091.94,566.57 L1093.69,565.48 L1095.43,564.36 L1097.14,563.23 L1098.84,562.08 L1100.53,560.92 L1102.20,559.74 L1103.86,558.55 L1105.50,557.35 L1107.14,556.14 L1108.77,554.93 L1110.39,553.71 L1112.00,552.48 L1113.60,551.24 L1115.21,550.01 L1116.80,548.77 L1118.40,547.53 L1119.99,546.29 L1121.58,545.06 L1123.18,543.82 L1124.77,542.59 L1126.37,541.37 L1127.97,540.16 L1129.58,538.95 L1131.20,537.75 L1132.82,536.56 L1134.45,535.38 L1136.09,534.22 L1137.74,533.07 L1139.41,531.94 L1141.08,530.82 L1142.78,529.73 L1144.48,528.65 L1146.21,527.59 L1147.95,526.55 L1149.71,525.54 L1151.49,524.55 L1153.29,523.59 L1155.12,522.65 L1156.96,521.75 L1158.84,520.87 L1160.74,520.02 L1162.66,519.20 L1164.61,518.42 L1166.60,517.67 L1168.61,516.96 L1170.65,516.28 L1172.73,515.65 L1174.84,515.05 L1176.98,514.49 L1179.16,513.98 L1181.38,513.50 L1183.64,513.07 L1185.93,512.69 L1188.27,512.36 L1190.65,512.07 L1193.07,511.83 L1195.53,511.64 L1198.04,511.51 L1200.60,511.43 L1203.20,511.40 L1203.20,517.70 L1200.69,517.73 L1198.22,517.81 L1195.79,517.94 L1193.41,518.13 L1191.07,518.37 L1188.77,518.66 L1186.51,518.99 L1184.29,519.37 L1182.11,519.80 L1179.96,520.28 L1177.85,520.79 L1175.77,521.35 L1173.73,521.95 L1171.71,522.58 L1169.73,523.26 L1167.78,523.97 L1165.85,524.72 L1163.95,525.50 L1162.08,526.32 L1160.23,527.17 L1158.41,528.05 L1156.61,528.95 L1154.83,529.89 L1153.07,530.85 L1151.33,531.84 L1149.60,532.85 L1147.90,533.89 L1146.21,534.95 L1144.53,536.03 L1142.87,537.12 L1141.22,538.24 L1139.58,539.37 L1137.96,540.52 L1136.34,541.68 L1134.73,542.86 L1133.12,544.05 L1131.52,545.25 L1129.93,546.46 L1128.34,547.67 L1126.75,548.89 L1125.16,550.12 L1123.58,551.36 L1121.99,552.59 L1120.40,553.83 L1118.80,555.07 L1117.20,556.31 L1115.60,557.54 L1113.99,558.78 L1112.37,560.01 L1110.74,561.23 L1109.10,562.44 L1107.45,563.65 L1105.78,564.85 L1104.11,566.04 L1102.42,567.22 L1100.71,568.38 L1098.98,569.53 L1097.24,570.66 L1095.48,571.78 L1093.70,572.87 L1091.89,573.95 L1090.07,575.01 L1088.21,576.05 L1086.34,577.06 L1084.44,578.05 L1082.51,579.01 L1080.55,579.95 L1078.56,580.85 L1076.54,581.73 L1074.49,582.58 L1072.41,583.40 L1070.30,584.18 L1068.14,584.93 L1065.95,585.64 L1063.73,586.32 L1061.46,586.95 L1059.16,587.55 L1056.82,588.11 L1054.43,588.62 L1052.00,589.10 L1049.52,589.53 L1047.00,589.91 L1044.44,590.24 L1041.82,590.53 L1039.16,590.77 L1036.45,590.96 L1033.69,591.09 L1030.87,591.17 L1028.00,591.20 Z" fill="#8182be" fill-opacity="0.85"/>
<path d="M1028.00,820.00 L1030.60,819.88 L1033.16,819.50 L1035.67,818.89 L1038.13,818.05 L1040.55,816.98 L1042.93,815.68 L1045.27,814.17 L1047.56,812.44 L1049.82,810.51 L1052.04,808.37 L1054.22,806.05 L1056.36,803.53 L1058.47,800.83 L1060.55,797.95 L1062.59,794.90 L1064.60,791.69 L1066.59,788.31 L1068.54,784.77 L1070.46,781.09 L1072.36,777.26 L1074.24,773.30 L1076.08,769.20 L1077.91,764.98 L1079.71,760.63 L1081.49,756.17 L1083.25,751.59 L1084.99,746.92 L1086.72,742.14 L1088.42,737.27 L1090.12,732.32 L1091.79,727.28 L1093.46,722.16 L1095.11,716.98 L1096.75,711.73 L1098.38,706.42 L1100.00,701.06 L1101.62,695.64 L1103.23,690.19 L1104.83,684.70 L1106.43,679.18 L1108.02,673.63 L1109.62,668.07 L1111.21,662.49 L1112.80,656.90 L1114.40,651.30 L1115.99,645.71 L1117.60,640.13 L1119.20,634.57 L1120.81,629.02 L1122.43,623.50 L1124.06,618.01 L1125.70,612.56 L1127.34,607.14 L1129.00,601.78 L1130.67,596.47 L1132.36,591.22 L1134.06,586.04 L1135.77,580.92 L1137.51,575.88 L1139.26,570.93 L1141.03,566.06 L1142.83,561.28 L1144.64,556.61 L1146.48,552.03 L1148.34,547.57 L1150.23,543.22 L1152.14,539.00 L1154.08,534.90 L1156.05,530.94 L1158.05,527.11 L1160.08,523.43 L1162.14,519.89 L1164.24,516.51 L1166.37,513.30 L1168.53,510.25 L1170.73,507.37 L1172.97,504.67 L1175.25,502.15 L1177.57,499.83 L1179.93,497.69 L1182.33,495.76 L1184.77,494.03 L1187.26,492.52 L1189.80,491.22 L1192.38,490.15 L1195.01,489.31 L1197.69,488.70 L1200.42,488.32 L1203.20,488.20 L1203.20,497.50 L1200.55,497.62 L1197.95,497.99 L1195.40,498.60 L1192.90,499.45 L1190.44,500.52 L1188.02,501.81 L1185.64,503.32 L1183.31,505.04 L1181.02,506.97 L1178.77,509.09 L1176.55,511.41 L1174.37,513.92 L1172.23,516.62 L1170.12,519.49 L1168.05,522.53 L1166.01,525.74 L1164.00,529.11 L1162.01,532.63 L1160.06,536.30 L1158.14,540.12 L1156.24,544.07 L1154.37,548.16 L1152.53,552.38 L1150.70,556.71 L1148.90,561.16 L1147.12,565.72 L1145.36,570.38 L1143.62,575.15 L1141.90,580.00 L1140.19,584.95 L1138.50,589.97 L1136.82,595.07 L1135.16,600.24 L1133.51,605.48 L1131.86,610.77 L1130.23,616.12 L1128.61,621.52 L1126.99,626.96 L1125.39,632.43 L1123.78,637.94 L1122.18,643.47 L1120.59,649.02 L1118.99,654.59 L1117.40,660.16 L1115.80,665.74 L1114.21,671.31 L1112.61,676.88 L1111.00,682.43 L1109.40,687.96 L1107.78,693.47 L1106.16,698.94 L1104.53,704.38 L1102.89,709.78 L1101.24,715.13 L1099.58,720.42 L1097.91,725.66 L1096.22,730.83 L1094.52,735.93 L1092.80,740.95 L1091.06,745.90 L1089.30,750.75 L1087.53,755.52 L1085.73,760.18 L1083.91,764.74 L1082.07,769.19 L1080.21,773.52 L1078.32,777.74 L1076.40,781.83 L1074.45,785.78 L1072.48,789.60 L1070.48,793.27 L1068.44,796.79 L1066.37,800.16 L1064.27,803.37 L1062.14,806.41 L1059.97,809.28 L1057.76,811.98 L1055.52,814.49 L1053.23,816.81 L1050.91,818.93 L1048.54,820.86 L1046.14,822.58 L1043.68,824.09 L1041.19,825.38 L1038.65,826.45 L1036.06,827.30 L1033.42,827.91 L1030.74,828.28 L1028.00,828.40 Z" fill="#b887cf" fill-opacity="0.85"/>
<path d="M1028.00,793.80 L1030.78,793.76 L1033.51,793.65 L1036.19,793.48 L1038.82,793.23 L1041.40,792.91 L1043.94,792.53 L1046.43,792.09 L1048.87,791.58 L1051.27,791.02 L1053.63,790.39 L1055.95,789.71 L1058.23,788.97 L1060.47,788.18 L1062.67,787.33 L1064.83,786.44 L1066.96,785.50 L1069.06,784.51 L1071.12,783.47 L1073.15,782.39 L1075.15,781.27 L1077.12,780.10 L1079.06,778.90 L1080.97,777.66 L1082.86,776.39 L1084.72,775.08 L1086.56,773.74 L1088.37,772.37 L1090.17,770.97 L1091.94,769.54 L1093.69,768.09 L1095.43,766.61 L1097.14,765.11 L1098.84,763.59 L1100.53,762.05 L1102.20,760.49 L1103.86,758.92 L1105.50,757.33 L1107.14,755.73 L1108.77,754.12 L1110.39,752.50 L1112.00,750.88 L1113.60,749.25 L1115.21,747.61 L1116.80,745.97 L1118.40,744.33 L1119.99,742.69 L1121.58,741.05 L1123.18,739.42 L1124.77,737.80 L1126.37,736.18 L1127.97,734.57 L1129.58,732.97 L1131.20,731.38 L1132.82,729.81 L1134.45,728.25 L1136.09,726.71 L1137.74,725.19 L1139.41,723.69 L1141.08,722.21 L1142.78,720.76 L1144.48,719.33 L1146.21,717.93 L1147.95,716.56 L1149.71,715.22 L1151.49,713.91 L1153.29,712.64 L1155.12,711.40 L1156.96,710.20 L1158.84,709.03 L1160.74,707.91 L1162.66,706.83 L1164.61,705.79 L1166.60,704.80 L1168.61,703.86 L1170.65,702.97 L1172.73,702.12 L1174.84,701.33 L1176.98,700.59 L1179.16,699.91 L1181.38,699.28 L1183.64,698.72 L1185.93,698.21 L1188.27,697.77 L1190.65,697.39 L1193.07,697.07 L1195.53,696.82 L1198.04,696.65 L1200.60,696.54 L1203.20,696.50 L1203.20,702.70 L1200.69,702.74 L1198.22,702.85 L1195.79,703.03 L1193.41,703.28 L1191.07,703.60 L1188.77,703.99 L1186.51,704.44 L1184.29,704.95 L1182.11,705.52 L1179.96,706.16 L1177.85,706.85 L1175.77,707.60 L1173.73,708.40 L1171.71,709.26 L1169.73,710.17 L1167.78,711.12 L1165.85,712.13 L1163.95,713.18 L1162.08,714.27 L1160.23,715.41 L1158.41,716.59 L1156.61,717.81 L1154.83,719.07 L1153.07,720.36 L1151.33,721.69 L1149.60,723.05 L1147.90,724.44 L1146.21,725.86 L1144.53,727.31 L1142.87,728.78 L1141.22,730.28 L1139.58,731.80 L1137.96,733.35 L1136.34,734.91 L1134.73,736.49 L1133.12,738.08 L1131.52,739.69 L1129.93,741.31 L1128.34,742.95 L1126.75,744.59 L1125.16,746.24 L1123.58,747.90 L1121.99,749.56 L1120.40,751.22 L1118.80,752.88 L1117.20,754.54 L1115.60,756.20 L1113.99,757.86 L1112.37,759.51 L1110.74,761.15 L1109.10,762.79 L1107.45,764.41 L1105.78,766.02 L1104.11,767.61 L1102.42,769.19 L1100.71,770.75 L1098.98,772.30 L1097.24,773.82 L1095.48,775.32 L1093.70,776.79 L1091.89,778.24 L1090.07,779.66 L1088.21,781.05 L1086.34,782.41 L1084.44,783.74 L1082.51,785.03 L1080.55,786.29 L1078.56,787.51 L1076.54,788.69 L1074.49,789.83 L1072.41,790.92 L1070.30,791.97 L1068.14,792.98 L1065.95,793.93 L1063.73,794.84 L1061.46,795.70 L1059.16,796.50 L1056.82,797.25 L1054.43,797.94 L1052.00,798.58 L1049.52,799.15 L1047.00,799.66 L1044.44,800.11 L1041.82,800.50 L1039.16,800.82 L1036.45,801.07 L1033.69,801.25 L1030.87,801.36 L1028.00,801.40 Z" fill="#8182be" fill-opacity="0.85"/>
<path d="M1028.00,457.40 L1031.31,457.39 L1034.56,457.35 L1037.75,457.28 L1040.88,457.19 L1043.95,457.07 L1046.95,456.93 L1049.90,456.76 L1052.80,456.58 L1055.63,456.36 L1058.42,456.13 L1061.15,455.88 L1063.83,455.60 L1066.45,455.31 L1069.03,454.99 L1071.56,454.66 L1074.04,454.31 L1076.48,453.94 L1078.87,453.56 L1081.21,453.15 L1083.51,452.74 L1085.77,452.30 L1087.99,451.86 L1090.17,451.40 L1092.31,450.92 L1094.42,450.44 L1096.49,449.94 L1098.52,449.43 L1100.52,448.91 L1102.48,448.37 L1104.42,447.83 L1106.32,447.28 L1108.19,446.73 L1110.04,446.16 L1111.86,445.59 L1113.65,445.01 L1115.42,444.42 L1117.16,443.83 L1118.89,443.24 L1120.58,442.64 L1122.26,442.04 L1123.92,441.43 L1125.57,440.82 L1127.19,440.21 L1128.80,439.61 L1130.40,438.99 L1131.98,438.39 L1133.55,437.78 L1135.10,437.17 L1136.65,436.56 L1138.19,435.96 L1139.72,435.36 L1141.24,434.77 L1142.76,434.18 L1144.27,433.59 L1145.78,433.01 L1147.29,432.44 L1148.80,431.87 L1150.30,431.32 L1151.81,430.77 L1153.32,430.23 L1154.83,429.69 L1156.35,429.17 L1157.87,428.66 L1159.41,428.16 L1160.94,427.68 L1162.49,427.20 L1164.05,426.74 L1165.62,426.30 L1167.20,425.86 L1168.79,425.45 L1170.40,425.04 L1172.03,424.66 L1173.67,424.29 L1175.33,423.94 L1177.01,423.61 L1178.72,423.29 L1180.44,423.00 L1182.18,422.72 L1183.95,422.47 L1185.75,422.24 L1187.57,422.02 L1189.41,421.84 L1191.29,421.67 L1193.19,421.53 L1195.13,421.41 L1197.10,421.32 L1199.10,421.25 L1201.13,421.21 L1203.20,421.20 L1203.20,423.30 L1201.13,423.31 L1199.10,423.35 L1197.10,423.42 L1195.13,423.51 L1193.19,423.63 L1191.29,423.77 L1189.41,423.93 L1187.57,424.12 L1185.75,424.33 L1183.95,424.56 L1182.18,424.82 L1180.44,425.09 L1178.72,425.39 L1177.01,425.70 L1175.33,426.03 L1173.67,426.38 L1172.03,426.75 L1170.40,427.13 L1168.79,427.53 L1167.20,427.95 L1165.62,428.38 L1164.05,428.83 L1162.49,429.29 L1160.94,429.76 L1159.41,430.25 L1157.87,430.74 L1156.35,431.25 L1154.83,431.77 L1153.32,432.30 L1151.81,432.84 L1150.30,433.39 L1148.80,433.94 L1147.29,434.51 L1145.78,435.08 L1144.27,435.66 L1142.76,436.24 L1141.24,436.83 L1139.72,437.42 L1138.19,438.02 L1136.65,438.62 L1135.10,439.22 L1133.55,439.83 L1131.98,440.44 L1130.40,441.05 L1128.80,441.65 L1127.19,442.26 L1125.57,442.87 L1123.92,443.48 L1122.26,444.08 L1120.58,444.68 L1118.89,445.28 L1117.16,445.87 L1115.42,446.46 L1113.65,447.04 L1111.86,447.62 L1110.04,448.19 L1108.19,448.76 L1106.32,449.31 L1104.42,449.86 L1102.48,450.40 L1100.52,450.93 L1098.52,451.45 L1096.49,451.96 L1094.42,452.45 L1092.31,452.94 L1090.17,453.41 L1087.99,453.87 L1085.77,454.32 L1083.51,454.75 L1081.21,455.17 L1078.87,455.57 L1076.48,455.95 L1074.04,456.32 L1071.56,456.67 L1069.03,457.00 L1066.45,457.31 L1063.83,457.61 L1061.15,457.88 L1058.42,458.14 L1055.63,458.37 L1052.80,458.58 L1049.90,458.77 L1046.95,458.93 L1043.95,459.07 L1040.88,459.19 L1037.75,459.28 L1034.56,459.35 L1031.31,459.39 L1028.00,459.40 Z" fill="#8182be" fill-opacity="0.85"/>
<line x1="940.5" x2="1026.0" y1="458.4" y2="458.4" stroke="#000" stroke-width="4.6" stroke-linecap="round"/>
<rect x="939.0" y="576.70" width="88.50" height="14.50" fill="#d4befc" stroke="#000" stroke-width="2.4" stroke-linejoin="round"/>
<rect x="939.0" y="667.50" width="88.50" height="133.90" fill="#f4ddfd" stroke="#000" stroke-width="2.4" stroke-linejoin="round"/>
<rect x="939.0" y="820.00" width="88.50" height="153.90" fill="#fffade" stroke="#000" stroke-width="2.4" stroke-linejoin="round"/>
<rect x="1203.4" y="421.20" width="88.70" height="76.30" fill="#b0b4f0" stroke="#000" stroke-width="2.4" stroke-linejoin="round"/>
<rect x="1203.4" y="511.40" width="88.70" height="146.10" fill="#d4befc" stroke="#000" stroke-width="2.4" stroke-linejoin="round"/>
<rect x="1203.4" y="696.50" width="88.70" height="79.00" fill="#f4ddfd" stroke="#000" stroke-width="2.4" stroke-linejoin="round"/>
<line x1="1204.9" x2="1290.6" y1="894.8" y2="894.8" stroke="#000" stroke-width="4.6" stroke-linecap="round"/>
<rect x="912" y="404.5" width="409.3" height="583" fill="none" stroke="#454545" stroke-width="1.45"/>
<text transform="translate(983.4,447.4) scale(0.82,1)" font-size="25" fill="#000" text-anchor="middle">very</text>
<text transform="translate(983.4,478.7) scale(0.82,1)" font-size="25" fill="#000" text-anchor="middle">high</text>
<text transform="translate(983.4,566.3) scale(0.82,1)" font-size="25" fill="#000" text-anchor="middle">high</text>
<text transform="translate(983.4,744.6) scale(0.82,1)" font-size="25" fill="#000" text-anchor="middle">low</text>
<text transform="translate(983.4,890.5) scale(0.81,1)" font-size="25" fill="#000" text-anchor="middle">not</text>
<text transform="translate(983.4,921.7) scale(0.81,1)" font-size="25" fill="#000" text-anchor="middle">detected</text>
<text transform="translate(1247.6,448.2) scale(0.82,1)" font-size="25" fill="#000" text-anchor="middle">very</text>
<text transform="translate(1247.6,479.4) scale(0.82,1)" font-size="25" fill="#000" text-anchor="middle">high</text>
<text transform="translate(1247.6,591.4) scale(0.82,1)" font-size="25" fill="#000" text-anchor="middle">high</text>
<text transform="translate(1247.6,744.6) scale(0.82,1)" font-size="25" fill="#000" text-anchor="middle">low</text>
<text transform="translate(1250.8,886.2) scale(0.82,1)" font-size="25" fill="#000" text-anchor="middle">not</text>
<text transform="translate(1250.1,917.7) scale(0.82,1)" font-size="25" fill="#000" text-anchor="middle">detected</text>
<rect x="888.9" y="867.3" width="4.5" height="105" fill="#c8c8c8"/>
<rect x="876.6" y="919.7" width="5" height="52.7" fill="#5e5e5e"/>
<text x="882.3" y="900.8" font-size="24" fill="#646464" text-anchor="end" font-weight="normal">50</text>
<text x="870.0" y="954.1" font-size="24" fill="#646464" text-anchor="end" font-weight="normal">25</text>
<text x="983.4" y="1018.4" font-size="23" fill="#4d4d4d" text-anchor="middle" font-weight="normal">Dec 2020</text>
<text x="983.4" y="1044.3" font-size="23" fill="#4d4d4d" text-anchor="middle" font-weight="normal">(2 weeks</text>
<text x="983.4" y="1068.8" font-size="23" fill="#4d4d4d" text-anchor="middle" font-weight="normal">pre-vaccination)</text>
<text x="1247.6" y="1018.4" font-size="23" fill="#4d4d4d" text-anchor="middle" font-weight="normal">Apr 2021</text>
<text x="1247.6" y="1044.3" font-size="23" fill="#4d4d4d" text-anchor="middle" font-weight="normal">(4 weeks after</text>
<text x="1247.6" y="1068.8" font-size="23" fill="#4d4d4d" text-anchor="middle" font-weight="normal">2nd vaccine dose)</text>
<text transform="translate(877.6,696.4) rotate(-90)" font-size="30" fill="#000" text-anchor="middle" textLength="247" lengthAdjust="spacingAndGlyphs">Number of patients</text>
</svg></body></html>
